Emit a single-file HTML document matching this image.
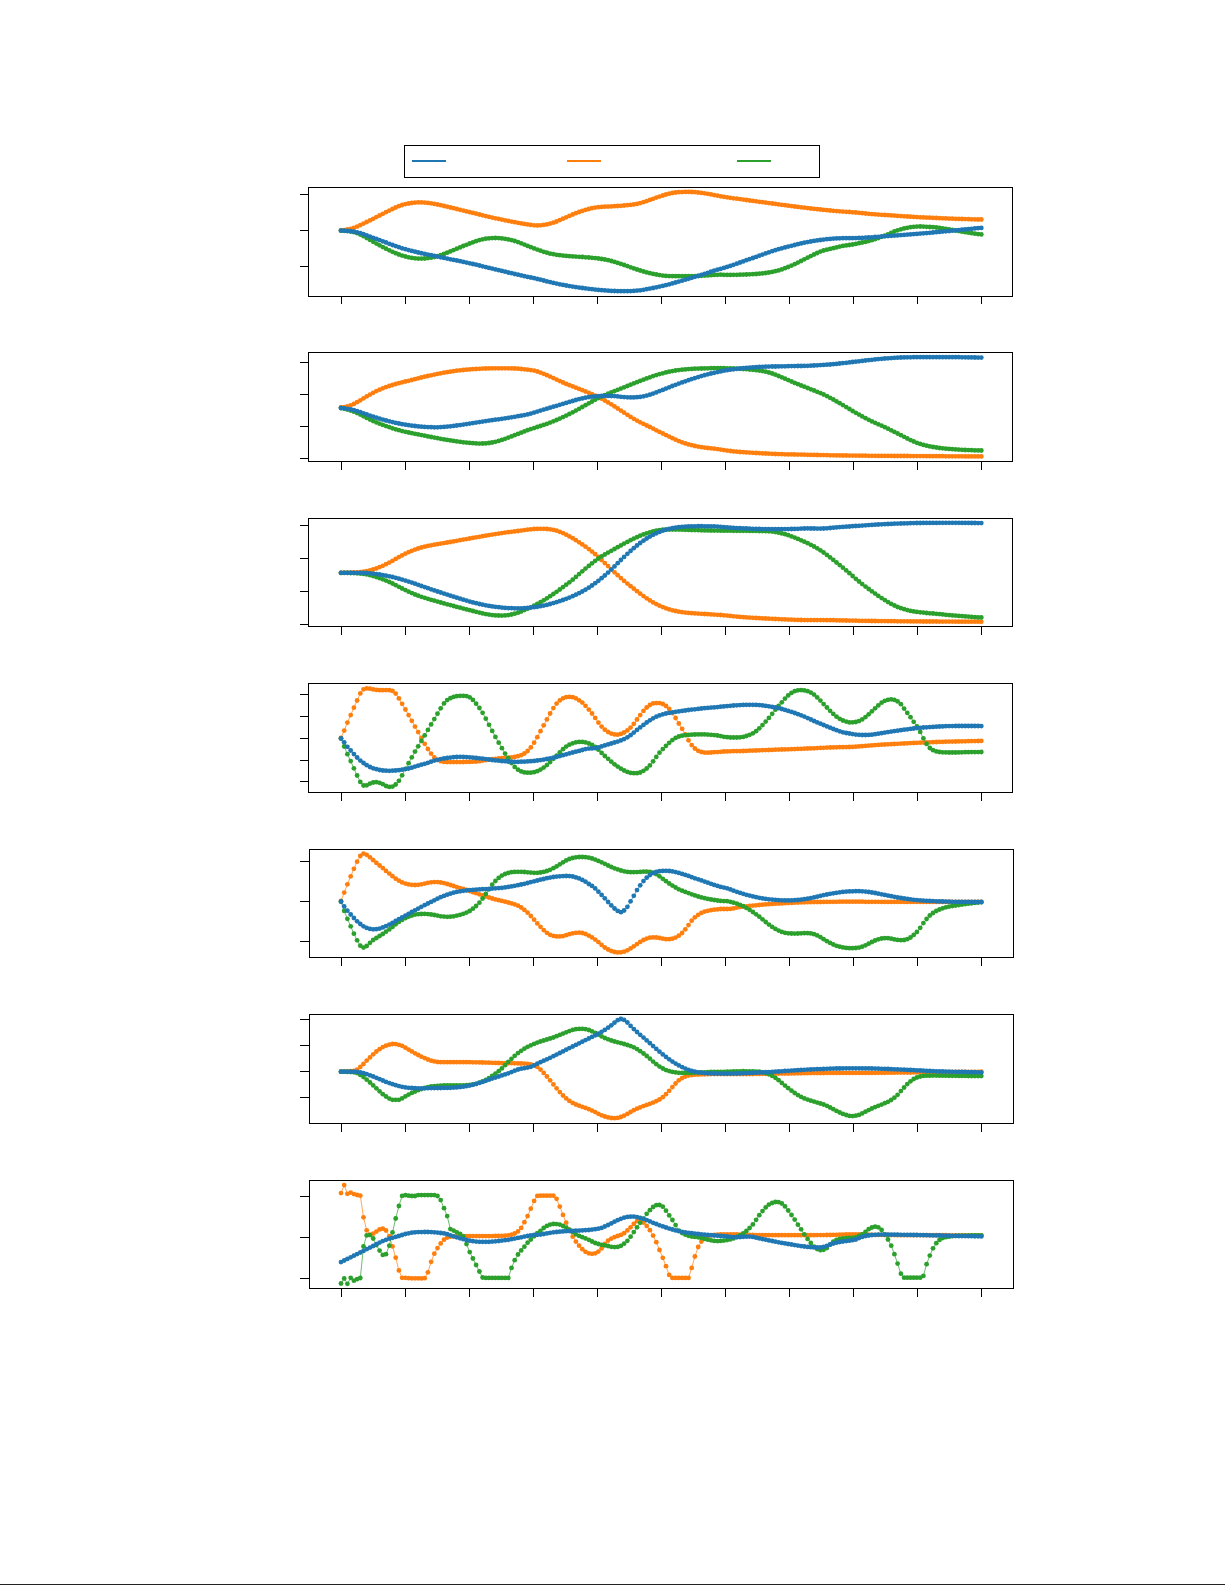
<!DOCTYPE html>
<html><head><meta charset="utf-8"><title>Figure</title>
<style>html,body{margin:0;padding:0;background:#fff;}body{width:1225px;height:1585px;position:relative;overflow:hidden;font-family:"Liberation Sans",sans-serif;}</style>
</head><body>
<svg width="1225" height="1585" viewBox="0 0 1225 1585" style="position:absolute;left:0;top:0">
<defs>
<marker id="mo" markerUnits="userSpaceOnUse" markerWidth="8" markerHeight="8" refX="4" refY="4" viewBox="0 0 8 8"><circle cx="4" cy="4" r="2.4" fill="#ff7f0e"/></marker>
<marker id="mg" markerUnits="userSpaceOnUse" markerWidth="8" markerHeight="8" refX="4" refY="4" viewBox="0 0 8 8"><circle cx="4" cy="4" r="2.4" fill="#2ca02c"/></marker>
<marker id="mb" markerUnits="userSpaceOnUse" markerWidth="8" markerHeight="8" refX="4" refY="4" viewBox="0 0 8 8"><circle cx="4" cy="4" r="2.4" fill="#1f77b4"/></marker>
</defs>
<rect x="0" y="0" width="1225" height="1585" fill="#fff"/>
<g shape-rendering="crispEdges" fill="none" stroke="#000" stroke-width="1">
<rect x="404.5" y="145.5" width="415" height="32"/>
</g>
<rect x="412" y="160" width="34" height="2" fill="#1f77b4"/>
<rect x="567" y="160" width="34" height="2" fill="#ff7f0e"/>
<rect x="737" y="160" width="34" height="2" fill="#2ca02c"/>
<polyline points="341.0,230.4 344.2,230.1 347.4,229.5 350.7,228.8 353.9,227.8 357.1,226.6 360.3,225.1 363.5,223.6 366.7,222.0 370.0,220.4 373.2,218.8 376.4,217.1 379.6,215.5 382.8,213.8 386.0,212.2 389.3,210.6 392.5,209.0 395.7,207.5 398.9,206.2 402.1,205.0 405.4,204.1 408.6,203.5 411.8,203.0 415.0,202.6 418.2,202.4 421.4,202.4 424.7,202.6 427.9,202.9 431.1,203.3 434.3,203.9 437.5,204.5 440.7,205.2 444.0,206.0 447.2,206.7 450.4,207.5 453.6,208.2 456.8,209.0 460.1,209.8 463.3,210.6 466.5,211.4 469.7,212.2 472.9,212.9 476.1,213.7 479.4,214.5 482.6,215.3 485.8,216.1 489.0,216.8 492.2,217.6 495.4,218.3 498.7,218.9 501.9,219.6 505.1,220.3 508.3,220.9 511.5,221.6 514.7,222.2 518.0,222.8 521.2,223.4 524.4,223.9 527.6,224.4 530.8,224.9 534.1,225.3 537.3,225.4 540.5,225.3 543.7,224.9 546.9,224.4 550.1,223.6 553.4,222.7 556.6,221.5 559.8,220.1 563.0,218.7 566.2,217.3 569.4,215.9 572.7,214.5 575.9,213.2 579.1,212.0 582.3,210.9 585.5,209.9 588.8,209.0 592.0,208.2 595.2,207.6 598.4,207.2 601.6,206.9 604.8,206.7 608.1,206.6 611.3,206.4 614.5,206.2 617.7,206.0 620.9,205.8 624.1,205.5 627.4,205.2 630.6,204.9 633.8,204.4 637.0,203.9 640.2,203.1 643.5,202.2 646.7,201.1 649.9,199.9 653.1,198.8 656.3,197.6 659.5,196.6 662.8,195.5 666.0,194.5 669.2,193.7 672.4,193.0 675.6,192.5 678.8,192.2 682.1,192.1 685.3,191.9 688.5,191.9 691.7,192.0 694.9,192.2 698.2,192.5 701.4,192.9 704.6,193.3 707.8,193.8 711.0,194.4 714.2,195.1 717.5,195.7 720.7,196.3 723.9,196.8 727.1,197.3 730.3,197.8 733.5,198.3 736.8,198.7 740.0,199.1 743.2,199.6 746.4,200.0 749.6,200.5 752.9,200.9 756.1,201.3 759.3,201.8 762.5,202.2 765.7,202.6 768.9,203.1 772.2,203.5 775.4,203.9 778.6,204.4 781.8,204.8 785.0,205.2 788.2,205.7 791.5,206.1 794.7,206.5 797.9,206.9 801.1,207.3 804.3,207.7 807.6,208.1 810.8,208.5 814.0,208.8 817.2,209.2 820.4,209.5 823.6,209.9 826.9,210.2 830.1,210.5 833.3,210.8 836.5,211.1 839.7,211.3 842.9,211.6 846.2,211.8 849.4,212.0 852.6,212.3 855.8,212.5 859.0,212.8 862.2,213.2 865.5,213.5 868.7,213.8 871.9,214.1 875.1,214.3 878.3,214.6 881.6,214.8 884.8,215.0 888.0,215.2 891.2,215.4 894.4,215.6 897.6,215.9 900.9,216.1 904.1,216.3 907.3,216.5 910.5,216.7 913.7,216.9 916.9,217.1 920.2,217.3 923.4,217.4 926.6,217.6 929.8,217.7 933.0,217.9 936.3,218.0 939.5,218.2 942.7,218.3 945.9,218.4 949.1,218.6 952.3,218.7 955.6,218.8 958.8,218.9 962.0,219.0 965.2,219.1 968.4,219.2 971.6,219.3 974.9,219.4 978.1,219.5 981.3,219.5" fill="none" stroke="#ff7f0e" stroke-width="0.7" stroke-linejoin="round" marker-start="url(#mo)" marker-mid="url(#mo)" marker-end="url(#mo)"/>
<polyline points="341.0,230.6 344.2,230.8 347.4,231.1 350.7,231.5 353.9,232.2 357.1,233.2 360.3,234.5 363.5,236.2 366.7,238.0 370.0,239.9 373.2,241.8 376.4,243.6 379.6,245.3 382.8,247.1 386.0,248.7 389.3,250.3 392.5,251.8 395.7,253.2 398.9,254.5 402.1,255.6 405.4,256.5 408.6,257.3 411.8,257.9 415.0,258.3 418.2,258.6 421.4,258.6 424.7,258.5 427.9,258.1 431.1,257.7 434.3,257.0 437.5,256.1 440.7,255.1 444.0,254.0 447.2,252.7 450.4,251.4 453.6,250.1 456.8,248.7 460.1,247.4 463.3,246.0 466.5,244.8 469.7,243.5 472.9,242.3 476.1,241.2 479.4,240.1 482.6,239.3 485.8,238.7 489.0,238.3 492.2,238.1 495.4,238.0 498.7,238.1 501.9,238.4 505.1,238.8 508.3,239.4 511.5,240.1 514.7,241.0 518.0,242.1 521.2,243.3 524.4,244.6 527.6,245.9 530.8,247.2 534.1,248.4 537.3,249.6 540.5,250.7 543.7,251.8 546.9,252.7 550.1,253.6 553.4,254.2 556.6,254.8 559.8,255.2 563.0,255.6 566.2,255.9 569.4,256.2 572.7,256.4 575.9,256.6 579.1,256.8 582.3,257.0 585.5,257.3 588.8,257.5 592.0,257.8 595.2,258.1 598.4,258.5 601.6,259.0 604.8,259.5 608.1,260.2 611.3,261.0 614.5,261.9 617.7,262.9 620.9,263.9 624.1,265.0 627.4,266.1 630.6,267.3 633.8,268.4 637.0,269.5 640.2,270.5 643.5,271.5 646.7,272.4 649.9,273.2 653.1,273.9 656.3,274.5 659.5,275.1 662.8,275.6 666.0,275.9 669.2,276.1 672.4,276.2 675.6,276.2 678.8,276.2 682.1,276.2 685.3,276.2 688.5,276.2 691.7,276.2 694.9,276.1 698.2,276.0 701.4,275.8 704.6,275.6 707.8,275.4 711.0,275.2 714.2,274.9 717.5,274.8 720.7,274.7 723.9,274.8 727.1,274.9 730.3,274.9 733.5,274.8 736.8,274.8 740.0,274.7 743.2,274.6 746.4,274.5 749.6,274.3 752.9,274.2 756.1,274.0 759.3,273.7 762.5,273.4 765.7,273.0 768.9,272.5 772.2,271.9 775.4,271.2 778.6,270.4 781.8,269.4 785.0,268.2 788.2,267.0 791.5,265.6 794.7,264.2 797.9,262.6 801.1,261.0 804.3,259.3 807.6,257.7 810.8,256.1 814.0,254.5 817.2,253.0 820.4,251.6 823.6,250.5 826.9,249.7 830.1,248.9 833.3,248.2 836.5,247.4 839.7,246.6 842.9,245.9 846.2,245.4 849.4,245.0 852.6,244.5 855.8,243.9 859.0,243.2 862.2,242.5 865.5,241.9 868.7,241.1 871.9,240.2 875.1,239.2 878.3,238.0 881.6,236.8 884.8,235.6 888.0,234.3 891.2,232.9 894.4,231.5 897.6,230.3 900.9,229.3 904.1,228.4 907.3,227.8 910.5,227.2 913.7,226.8 916.9,226.6 920.2,226.5 923.4,226.6 926.6,226.8 929.8,227.0 933.0,227.2 936.3,227.5 939.5,227.9 942.7,228.4 945.9,228.9 949.1,229.5 952.3,230.0 955.6,230.6 958.8,231.1 962.0,231.7 965.2,232.2 968.4,232.7 971.6,233.2 974.9,233.7 978.1,234.1 981.3,234.4" fill="none" stroke="#2ca02c" stroke-width="0.7" stroke-linejoin="round" marker-start="url(#mg)" marker-mid="url(#mg)" marker-end="url(#mg)"/>
<polyline points="341.0,230.6 344.2,230.7 347.4,230.9 350.7,231.2 353.9,231.7 357.1,232.3 360.3,233.2 363.5,234.2 366.7,235.4 370.0,236.6 373.2,237.8 376.4,238.9 379.6,240.1 382.8,241.3 386.0,242.5 389.3,243.8 392.5,245.0 395.7,246.1 398.9,247.2 402.1,248.3 405.4,249.2 408.6,250.1 411.8,250.9 415.0,251.7 418.2,252.5 421.4,253.2 424.7,253.9 427.9,254.6 431.1,255.2 434.3,255.9 437.5,256.6 440.7,257.3 444.0,257.9 447.2,258.6 450.4,259.3 453.6,259.9 456.8,260.5 460.1,261.2 463.3,261.9 466.5,262.6 469.7,263.3 472.9,264.0 476.1,264.7 479.4,265.5 482.6,266.3 485.8,267.1 489.0,267.9 492.2,268.6 495.4,269.4 498.7,270.2 501.9,270.9 505.1,271.7 508.3,272.5 511.5,273.2 514.7,274.0 518.0,274.7 521.2,275.4 524.4,276.2 527.6,276.9 530.8,277.5 534.1,278.2 537.3,279.0 540.5,279.7 543.7,280.5 546.9,281.4 550.1,282.1 553.4,282.9 556.6,283.6 559.8,284.3 563.0,284.9 566.2,285.5 569.4,286.1 572.7,286.6 575.9,287.1 579.1,287.6 582.3,288.0 585.5,288.4 588.8,288.8 592.0,289.2 595.2,289.6 598.4,289.9 601.6,290.2 604.8,290.4 608.1,290.7 611.3,290.9 614.5,291.0 617.7,291.2 620.9,291.2 624.1,291.2 627.4,291.2 630.6,291.1 633.8,290.9 637.0,290.6 640.2,290.3 643.5,289.8 646.7,289.2 649.9,288.6 653.1,288.0 656.3,287.3 659.5,286.6 662.8,285.9 666.0,285.1 669.2,284.3 672.4,283.4 675.6,282.5 678.8,281.6 682.1,280.7 685.3,279.7 688.5,278.8 691.7,277.8 694.9,276.8 698.2,275.9 701.4,274.8 704.6,273.8 707.8,272.8 711.0,271.7 714.2,270.7 717.5,269.7 720.7,268.8 723.9,267.9 727.1,266.9 730.3,265.9 733.5,264.8 736.8,263.7 740.0,262.5 743.2,261.4 746.4,260.2 749.6,259.1 752.9,258.0 756.1,256.9 759.3,255.7 762.5,254.6 765.7,253.4 768.9,252.3 772.2,251.2 775.4,250.2 778.6,249.2 781.8,248.3 785.0,247.4 788.2,246.6 791.5,245.8 794.7,245.0 797.9,244.2 801.1,243.4 804.3,242.7 807.6,242.1 810.8,241.5 814.0,240.9 817.2,240.4 820.4,240.0 823.6,239.6 826.9,239.2 830.1,238.9 833.3,238.6 836.5,238.4 839.7,238.3 842.9,238.2 846.2,238.2 849.4,238.2 852.6,238.2 855.8,238.1 859.0,238.0 862.2,237.9 865.5,237.7 868.7,237.5 871.9,237.3 875.1,237.0 878.3,236.8 881.6,236.5 884.8,236.3 888.0,236.1 891.2,235.8 894.4,235.6 897.6,235.4 900.9,235.1 904.1,234.9 907.3,234.6 910.5,234.4 913.7,234.1 916.9,233.9 920.2,233.6 923.4,233.3 926.6,233.1 929.8,232.8 933.0,232.5 936.3,232.2 939.5,231.9 942.7,231.6 945.9,231.3 949.1,231.0 952.3,230.7 955.6,230.4 958.8,230.1 962.0,229.7 965.2,229.4 968.4,229.1 971.6,228.8 974.9,228.4 978.1,228.1 981.3,227.9" fill="none" stroke="#1f77b4" stroke-width="0.7" stroke-linejoin="round" marker-start="url(#mb)" marker-mid="url(#mb)" marker-end="url(#mb)"/>
<g shape-rendering="crispEdges" fill="#000"><rect x="308" y="187" width="705" height="1"/><rect x="308" y="296" width="705" height="1"/><rect x="308" y="187" width="1" height="110"/><rect x="1012" y="187" width="1" height="110"/><rect x="341" y="297" width="1" height="7"/><rect x="405" y="297" width="1" height="7"/><rect x="469" y="297" width="1" height="7"/><rect x="533" y="297" width="1" height="7"/><rect x="597" y="297" width="1" height="7"/><rect x="661" y="297" width="1" height="7"/><rect x="725" y="297" width="1" height="7"/><rect x="789" y="297" width="1" height="7"/><rect x="853" y="297" width="1" height="7"/><rect x="917" y="297" width="1" height="7"/><rect x="981" y="297" width="1" height="7"/><rect x="300" y="194" width="8" height="1"/><rect x="300" y="230" width="8" height="1"/><rect x="300" y="266" width="8" height="1"/></g>
<polyline points="341.0,407.5 344.2,407.1 347.4,406.4 350.7,405.3 353.9,403.9 357.1,402.2 360.3,400.3 363.5,398.3 366.7,396.4 370.0,394.6 373.2,392.8 376.4,391.1 379.6,389.7 382.8,388.3 386.0,387.1 389.3,386.0 392.5,385.0 395.7,384.0 398.9,383.2 402.1,382.3 405.4,381.5 408.6,380.8 411.8,380.0 415.0,379.2 418.2,378.3 421.4,377.5 424.7,376.7 427.9,376.0 431.1,375.3 434.3,374.6 437.5,373.9 440.7,373.3 444.0,372.7 447.2,372.2 450.4,371.7 453.6,371.2 456.8,370.7 460.1,370.3 463.3,370.0 466.5,369.7 469.7,369.4 472.9,369.2 476.1,369.0 479.4,368.8 482.6,368.6 485.8,368.5 489.0,368.4 492.2,368.3 495.4,368.3 498.7,368.3 501.9,368.3 505.1,368.3 508.3,368.3 511.5,368.4 514.7,368.5 518.0,368.7 521.2,369.0 524.4,369.3 527.6,369.7 530.8,370.1 534.1,370.6 537.3,371.5 540.5,372.6 543.7,373.8 546.9,375.2 550.1,376.6 553.4,378.1 556.6,379.6 559.8,381.1 563.0,382.5 566.2,383.9 569.4,385.2 572.7,386.4 575.9,387.7 579.1,388.9 582.3,390.2 585.5,391.5 588.8,392.8 592.0,394.1 595.2,395.6 598.4,397.1 601.6,398.7 604.8,400.5 608.1,402.4 611.3,404.3 614.5,406.4 617.7,408.5 620.9,410.6 624.1,412.7 627.4,414.8 630.6,416.9 633.8,418.8 637.0,420.6 640.2,422.3 643.5,423.9 646.7,425.5 649.9,427.0 653.1,428.6 656.3,430.3 659.5,431.9 662.8,433.5 666.0,435.1 669.2,436.6 672.4,438.2 675.6,439.7 678.8,441.1 682.1,442.3 685.3,443.4 688.5,444.4 691.7,445.2 694.9,446.0 698.2,446.6 701.4,447.2 704.6,447.6 707.8,448.0 711.0,448.3 714.2,448.7 717.5,449.1 720.7,449.6 723.9,450.1 727.1,450.6 730.3,451.0 733.5,451.4 736.8,451.7 740.0,452.0 743.2,452.2 746.4,452.4 749.6,452.6 752.9,452.8 756.1,453.0 759.3,453.2 762.5,453.4 765.7,453.5 768.9,453.7 772.2,453.8 775.4,454.0 778.6,454.1 781.8,454.2 785.0,454.3 788.2,454.4 791.5,454.4 794.7,454.5 797.9,454.6 801.1,454.6 804.3,454.7 807.6,454.8 810.8,454.9 814.0,454.9 817.2,455.0 820.4,455.1 823.6,455.1 826.9,455.2 830.1,455.3 833.3,455.3 836.5,455.4 839.7,455.4 842.9,455.5 846.2,455.5 849.4,455.6 852.6,455.6 855.8,455.6 859.0,455.7 862.2,455.7 865.5,455.7 868.7,455.8 871.9,455.8 875.1,455.8 878.3,455.9 881.6,455.9 884.8,455.9 888.0,455.9 891.2,455.9 894.4,456.0 897.6,456.0 900.9,456.0 904.1,456.0 907.3,456.0 910.5,456.1 913.7,456.1 916.9,456.1 920.2,456.1 923.4,456.1 926.6,456.2 929.8,456.2 933.0,456.2 936.3,456.2 939.5,456.2 942.7,456.2 945.9,456.3 949.1,456.3 952.3,456.3 955.6,456.3 958.8,456.3 962.0,456.3 965.2,456.4 968.4,456.4 971.6,456.4 974.9,456.4 978.1,456.4 981.3,456.4" fill="none" stroke="#ff7f0e" stroke-width="0.7" stroke-linejoin="round" marker-start="url(#mo)" marker-mid="url(#mo)" marker-end="url(#mo)"/>
<polyline points="341.0,408.1 344.2,408.7 347.4,409.5 350.7,410.5 353.9,411.7 357.1,413.1 360.3,414.6 363.5,416.3 366.7,417.9 370.0,419.5 373.2,421.0 376.4,422.4 379.6,423.7 382.8,424.9 386.0,426.1 389.3,427.2 392.5,428.3 395.7,429.3 398.9,430.2 402.1,431.1 405.4,431.8 408.6,432.5 411.8,433.2 415.0,433.8 418.2,434.4 421.4,435.1 424.7,435.7 427.9,436.4 431.1,437.0 434.3,437.6 437.5,438.2 440.7,438.8 444.0,439.4 447.2,439.9 450.4,440.4 453.6,440.9 456.8,441.4 460.1,441.8 463.3,442.3 466.5,442.6 469.7,442.9 472.9,443.2 476.1,443.4 479.4,443.6 482.6,443.5 485.8,443.4 489.0,443.0 492.2,442.5 495.4,441.8 498.7,440.9 501.9,439.9 505.1,438.8 508.3,437.6 511.5,436.4 514.7,435.2 518.0,433.9 521.2,432.7 524.4,431.4 527.6,430.2 530.8,429.1 534.1,428.1 537.3,427.0 540.5,426.0 543.7,424.9 546.9,423.8 550.1,422.6 553.4,421.3 556.6,420.0 559.8,418.6 563.0,417.1 566.2,415.6 569.4,414.0 572.7,412.3 575.9,410.6 579.1,408.8 582.3,407.0 585.5,405.2 588.8,403.3 592.0,401.5 595.2,399.7 598.4,398.1 601.6,396.5 604.8,395.1 608.1,393.7 611.3,392.4 614.5,391.1 617.7,389.8 620.9,388.6 624.1,387.3 627.4,386.0 630.6,384.7 633.8,383.4 637.0,382.2 640.2,380.9 643.5,379.7 646.7,378.4 649.9,377.3 653.1,376.1 656.3,375.1 659.5,374.1 662.8,373.3 666.0,372.4 669.2,371.7 672.4,371.1 675.6,370.5 678.8,370.1 682.1,369.7 685.3,369.4 688.5,369.1 691.7,368.9 694.9,368.7 698.2,368.6 701.4,368.5 704.6,368.4 707.8,368.3 711.0,368.2 714.2,368.2 717.5,368.1 720.7,368.1 723.9,368.2 727.1,368.3 730.3,368.4 733.5,368.5 736.8,368.6 740.0,368.8 743.2,369.0 746.4,369.2 749.6,369.5 752.9,369.8 756.1,370.2 759.3,370.6 762.5,371.1 765.7,371.7 768.9,372.5 772.2,373.5 775.4,374.7 778.6,376.0 781.8,377.3 785.0,378.7 788.2,380.1 791.5,381.5 794.7,382.9 797.9,384.2 801.1,385.5 804.3,386.7 807.6,388.0 810.8,389.3 814.0,390.5 817.2,391.8 820.4,393.1 823.6,394.5 826.9,396.1 830.1,397.8 833.3,399.5 836.5,401.4 839.7,403.2 842.9,405.1 846.2,407.1 849.4,409.0 852.6,411.0 855.8,412.8 859.0,414.6 862.2,416.4 865.5,418.2 868.7,419.8 871.9,421.4 875.1,422.8 878.3,424.3 881.6,425.7 884.8,427.2 888.0,428.7 891.2,430.3 894.4,431.9 897.6,433.5 900.9,435.2 904.1,436.8 907.3,438.5 910.5,440.1 913.7,441.5 916.9,442.8 920.2,443.9 923.4,444.9 926.6,445.7 929.8,446.4 933.0,447.0 936.3,447.5 939.5,448.0 942.7,448.3 945.9,448.7 949.1,448.9 952.3,449.2 955.6,449.4 958.8,449.6 962.0,449.8 965.2,450.0 968.4,450.1 971.6,450.2 974.9,450.4 978.1,450.4 981.3,450.5" fill="none" stroke="#2ca02c" stroke-width="0.7" stroke-linejoin="round" marker-start="url(#mg)" marker-mid="url(#mg)" marker-end="url(#mg)"/>
<polyline points="341.0,408.0 344.2,408.3 347.4,408.8 350.7,409.4 353.9,410.2 357.1,411.1 360.3,412.1 363.5,413.3 366.7,414.4 370.0,415.6 373.2,416.7 376.4,417.7 379.6,418.7 382.8,419.6 386.0,420.5 389.3,421.3 392.5,422.1 395.7,422.9 398.9,423.5 402.1,424.2 405.4,424.7 408.6,425.2 411.8,425.7 415.0,426.0 418.2,426.4 421.4,426.7 424.7,426.9 427.9,427.1 431.1,427.2 434.3,427.3 437.5,427.3 440.7,427.1 444.0,426.9 447.2,426.6 450.4,426.3 453.6,425.9 456.8,425.5 460.1,425.1 463.3,424.6 466.5,424.1 469.7,423.6 472.9,423.1 476.1,422.6 479.4,422.1 482.6,421.6 485.8,421.1 489.0,420.6 492.2,420.2 495.4,419.7 498.7,419.3 501.9,418.8 505.1,418.3 508.3,417.8 511.5,417.3 514.7,416.8 518.0,416.2 521.2,415.7 524.4,415.1 527.6,414.4 530.8,413.6 534.1,412.6 537.3,411.6 540.5,410.6 543.7,409.6 546.9,408.7 550.1,407.7 553.4,406.7 556.6,405.8 559.8,404.8 563.0,403.8 566.2,402.9 569.4,401.9 572.7,401.0 575.9,400.0 579.1,399.1 582.3,398.4 585.5,397.7 588.8,397.1 592.0,396.7 595.2,396.3 598.4,396.1 601.6,396.0 604.8,395.9 608.1,395.9 611.3,396.0 614.5,396.1 617.7,396.4 620.9,396.8 624.1,397.1 627.4,397.3 630.6,397.4 633.8,397.4 637.0,397.2 640.2,396.9 643.5,396.3 646.7,395.6 649.9,394.7 653.1,393.6 656.3,392.4 659.5,391.1 662.8,389.9 666.0,388.6 669.2,387.3 672.4,386.0 675.6,384.8 678.8,383.6 682.1,382.4 685.3,381.3 688.5,380.2 691.7,379.1 694.9,378.1 698.2,377.1 701.4,376.1 704.6,375.2 707.8,374.3 711.0,373.5 714.2,372.8 717.5,372.1 720.7,371.4 723.9,370.7 727.1,370.2 730.3,369.7 733.5,369.3 736.8,368.9 740.0,368.5 743.2,368.2 746.4,367.9 749.6,367.6 752.9,367.4 756.1,367.1 759.3,367.0 762.5,366.8 765.7,366.7 768.9,366.6 772.2,366.5 775.4,366.5 778.6,366.4 781.8,366.3 785.0,366.3 788.2,366.2 791.5,366.1 794.7,366.1 797.9,366.0 801.1,366.0 804.3,365.9 807.6,365.8 810.8,365.7 814.0,365.5 817.2,365.3 820.4,365.1 823.6,364.9 826.9,364.7 830.1,364.5 833.3,364.2 836.5,363.9 839.7,363.5 842.9,363.1 846.2,362.8 849.4,362.4 852.6,362.0 855.8,361.7 859.0,361.3 862.2,360.9 865.5,360.5 868.7,360.1 871.9,359.8 875.1,359.4 878.3,359.1 881.6,358.8 884.8,358.5 888.0,358.3 891.2,358.1 894.4,357.8 897.6,357.7 900.9,357.5 904.1,357.4 907.3,357.3 910.5,357.3 913.7,357.2 916.9,357.2 920.2,357.2 923.4,357.2 926.6,357.2 929.8,357.2 933.0,357.2 936.3,357.2 939.5,357.2 942.7,357.2 945.9,357.2 949.1,357.2 952.3,357.2 955.6,357.2 958.8,357.2 962.0,357.3 965.2,357.3 968.4,357.4 971.6,357.4 974.9,357.5 978.1,357.6 981.3,357.6" fill="none" stroke="#1f77b4" stroke-width="0.7" stroke-linejoin="round" marker-start="url(#mb)" marker-mid="url(#mb)" marker-end="url(#mb)"/>
<g shape-rendering="crispEdges" fill="#000"><rect x="308" y="352" width="705" height="1"/><rect x="308" y="461" width="705" height="1"/><rect x="308" y="352" width="1" height="110"/><rect x="1012" y="352" width="1" height="110"/><rect x="341" y="462" width="1" height="8"/><rect x="405" y="462" width="1" height="8"/><rect x="469" y="462" width="1" height="8"/><rect x="533" y="462" width="1" height="8"/><rect x="597" y="462" width="1" height="8"/><rect x="661" y="462" width="1" height="8"/><rect x="725" y="462" width="1" height="8"/><rect x="789" y="462" width="1" height="8"/><rect x="853" y="462" width="1" height="8"/><rect x="917" y="462" width="1" height="8"/><rect x="981" y="462" width="1" height="8"/><rect x="300" y="362" width="8" height="1"/><rect x="300" y="394" width="8" height="1"/><rect x="300" y="426" width="8" height="1"/><rect x="300" y="458" width="8" height="1"/></g>
<polyline points="341.0,572.8 344.2,572.7 347.4,572.7 350.7,572.6 353.9,572.5 357.1,572.3 360.3,572.1 363.5,571.7 366.7,571.2 370.0,570.4 373.2,569.5 376.4,568.4 379.6,567.1 382.8,565.8 386.0,564.2 389.3,562.6 392.5,560.8 395.7,558.9 398.9,557.1 402.1,555.4 405.4,553.7 408.6,552.2 411.8,550.8 415.0,549.6 418.2,548.5 421.4,547.5 424.7,546.7 427.9,545.9 431.1,545.3 434.3,544.7 437.5,544.2 440.7,543.6 444.0,543.1 447.2,542.5 450.4,542.0 453.6,541.4 456.8,540.8 460.1,540.2 463.3,539.6 466.5,539.1 469.7,538.5 472.9,537.9 476.1,537.3 479.4,536.8 482.6,536.2 485.8,535.7 489.0,535.1 492.2,534.6 495.4,534.1 498.7,533.6 501.9,533.1 505.1,532.6 508.3,532.2 511.5,531.8 514.7,531.4 518.0,531.0 521.2,530.6 524.4,530.1 527.6,529.7 530.8,529.3 534.1,529.0 537.3,528.9 540.5,528.8 543.7,528.8 546.9,529.0 550.1,529.3 553.4,529.9 556.6,530.7 559.8,531.8 563.0,533.1 566.2,534.7 569.4,536.4 572.7,538.2 575.9,540.2 579.1,542.3 582.3,544.4 585.5,546.7 588.8,549.1 592.0,551.6 595.2,554.2 598.4,557.0 601.6,560.0 604.8,563.1 608.1,566.1 611.3,569.2 614.5,572.3 617.7,575.2 620.9,578.1 624.1,580.9 627.4,583.6 630.6,586.2 633.8,588.7 637.0,591.2 640.2,593.7 643.5,596.1 646.7,598.3 649.9,600.4 653.1,602.4 656.3,604.1 659.5,605.7 662.8,607.1 666.0,608.3 669.2,609.4 672.4,610.3 675.6,611.0 678.8,611.7 682.1,612.2 685.3,612.6 688.5,612.9 691.7,613.2 694.9,613.4 698.2,613.6 701.4,613.8 704.6,614.0 707.8,614.2 711.0,614.4 714.2,614.6 717.5,614.8 720.7,615.0 723.9,615.3 727.1,615.6 730.3,615.9 733.5,616.3 736.8,616.6 740.0,616.9 743.2,617.2 746.4,617.4 749.6,617.6 752.9,617.8 756.1,618.0 759.3,618.2 762.5,618.4 765.7,618.5 768.9,618.7 772.2,618.8 775.4,619.0 778.6,619.1 781.8,619.3 785.0,619.4 788.2,619.6 791.5,619.7 794.7,619.8 797.9,619.9 801.1,620.0 804.3,620.1 807.6,620.1 810.8,620.1 814.0,620.1 817.2,620.1 820.4,620.1 823.6,620.1 826.9,620.2 830.1,620.2 833.3,620.2 836.5,620.3 839.7,620.4 842.9,620.4 846.2,620.5 849.4,620.6 852.6,620.6 855.8,620.7 859.0,620.8 862.2,620.8 865.5,620.9 868.7,620.9 871.9,621.0 875.1,621.0 878.3,621.1 881.6,621.1 884.8,621.1 888.0,621.2 891.2,621.2 894.4,621.2 897.6,621.3 900.9,621.3 904.1,621.3 907.3,621.3 910.5,621.4 913.7,621.4 916.9,621.4 920.2,621.4 923.4,621.5 926.6,621.5 929.8,621.5 933.0,621.5 936.3,621.5 939.5,621.6 942.7,621.6 945.9,621.6 949.1,621.6 952.3,621.6 955.6,621.7 958.8,621.7 962.0,621.7 965.2,621.7 968.4,621.7 971.6,621.7 974.9,621.7 978.1,621.7 981.3,621.8" fill="none" stroke="#ff7f0e" stroke-width="0.7" stroke-linejoin="round" marker-start="url(#mo)" marker-mid="url(#mo)" marker-end="url(#mo)"/>
<polyline points="341.0,572.8 344.2,572.8 347.4,572.9 350.7,573.0 353.9,573.1 357.1,573.3 360.3,573.5 363.5,573.9 366.7,574.4 370.0,575.2 373.2,576.1 376.4,577.1 379.6,578.2 382.8,579.3 386.0,580.6 389.3,582.0 392.5,583.5 395.7,585.2 398.9,586.8 402.1,588.5 405.4,590.1 408.6,591.7 411.8,593.1 415.0,594.5 418.2,595.7 421.4,596.8 424.7,597.8 427.9,598.8 431.1,599.8 434.3,600.7 437.5,601.6 440.7,602.5 444.0,603.4 447.2,604.3 450.4,605.1 453.6,606.0 456.8,606.9 460.1,607.7 463.3,608.6 466.5,609.4 469.7,610.2 472.9,611.0 476.1,611.8 479.4,612.6 482.6,613.4 485.8,614.1 489.0,614.6 492.2,615.1 495.4,615.4 498.7,615.5 501.9,615.6 505.1,615.4 508.3,615.1 511.5,614.5 514.7,613.7 518.0,612.7 521.2,611.5 524.4,610.1 527.6,608.7 530.8,607.3 534.1,605.7 537.3,604.0 540.5,602.2 543.7,600.3 546.9,598.3 550.1,596.2 553.4,594.0 556.6,591.8 559.8,589.5 563.0,587.1 566.2,584.7 569.4,582.3 572.7,579.7 575.9,576.9 579.1,574.1 582.3,571.3 585.5,568.6 588.8,565.9 592.0,563.3 595.2,560.8 598.4,558.5 601.6,556.4 604.8,554.5 608.1,552.6 611.3,550.8 614.5,549.0 617.7,547.2 620.9,545.4 624.1,543.6 627.4,541.9 630.6,540.2 633.8,538.6 637.0,537.2 640.2,535.7 643.5,534.4 646.7,533.3 649.9,532.3 653.1,531.4 656.3,530.6 659.5,530.1 662.8,529.7 666.0,529.6 669.2,529.5 672.4,529.5 675.6,529.5 678.8,529.6 682.1,529.7 685.3,529.8 688.5,529.9 691.7,530.0 694.9,530.1 698.2,530.2 701.4,530.3 704.6,530.4 707.8,530.4 711.0,530.5 714.2,530.6 717.5,530.6 720.7,530.7 723.9,530.7 727.1,530.7 730.3,530.7 733.5,530.8 736.8,530.8 740.0,530.8 743.2,530.8 746.4,530.8 749.6,530.9 752.9,530.9 756.1,530.9 759.3,531.0 762.5,531.1 765.7,531.2 768.9,531.3 772.2,531.6 775.4,532.1 778.6,532.7 781.8,533.4 785.0,534.2 788.2,535.2 791.5,536.4 794.7,537.6 797.9,538.9 801.1,540.3 804.3,541.7 807.6,543.2 810.8,544.8 814.0,546.5 817.2,548.3 820.4,550.3 823.6,552.5 826.9,554.9 830.1,557.4 833.3,559.9 836.5,562.5 839.7,565.1 842.9,567.7 846.2,570.4 849.4,573.2 852.6,576.0 855.8,578.8 859.0,581.5 862.2,584.1 865.5,586.6 868.7,589.0 871.9,591.3 875.1,593.6 878.3,595.9 881.6,598.1 884.8,600.1 888.0,602.1 891.2,603.9 894.4,605.5 897.6,607.0 900.9,608.2 904.1,609.2 907.3,610.1 910.5,610.9 913.7,611.4 916.9,611.9 920.2,612.3 923.4,612.6 926.6,613.0 929.8,613.3 933.0,613.5 936.3,613.8 939.5,614.1 942.7,614.4 945.9,614.8 949.1,615.1 952.3,615.4 955.6,615.6 958.8,615.9 962.0,616.1 965.2,616.4 968.4,616.6 971.6,616.9 974.9,617.2 978.1,617.4 981.3,617.5" fill="none" stroke="#2ca02c" stroke-width="0.7" stroke-linejoin="round" marker-start="url(#mg)" marker-mid="url(#mg)" marker-end="url(#mg)"/>
<polyline points="341.0,572.8 344.2,572.8 347.4,572.8 350.7,572.8 353.9,572.8 357.1,572.8 360.3,572.8 363.5,572.9 366.7,573.0 370.0,573.3 373.2,573.6 376.4,574.1 379.6,574.5 382.8,575.1 386.0,575.7 389.3,576.3 392.5,577.0 395.7,577.8 398.9,578.7 402.1,579.6 405.4,580.6 408.6,581.6 411.8,582.6 415.0,583.7 418.2,584.8 421.4,586.0 424.7,587.1 427.9,588.2 431.1,589.3 434.3,590.4 437.5,591.5 440.7,592.5 444.0,593.6 447.2,594.6 450.4,595.7 453.6,596.7 456.8,597.7 460.1,598.7 463.3,599.7 466.5,600.6 469.7,601.6 472.9,602.4 476.1,603.2 479.4,604.0 482.6,604.7 485.8,605.3 489.0,605.9 492.2,606.4 495.4,606.8 498.7,607.2 501.9,607.6 505.1,607.9 508.3,608.1 511.5,608.2 514.7,608.3 518.0,608.3 521.2,608.3 524.4,608.1 527.6,607.9 530.8,607.6 534.1,607.2 537.3,606.8 540.5,606.2 543.7,605.6 546.9,604.9 550.1,604.0 553.4,603.1 556.6,602.2 559.8,601.1 563.0,600.0 566.2,598.8 569.4,597.6 572.7,596.2 575.9,594.7 579.1,593.2 582.3,591.5 585.5,589.7 588.8,587.7 592.0,585.5 595.2,583.2 598.4,580.8 601.6,578.2 604.8,575.5 608.1,572.6 611.3,569.6 614.5,566.4 617.7,563.2 620.9,560.0 624.1,556.9 627.4,553.8 630.6,550.9 633.8,548.2 637.0,545.5 640.2,543.0 643.5,540.7 646.7,538.5 649.9,536.6 653.1,534.8 656.3,533.3 659.5,531.9 662.8,530.7 666.0,529.7 669.2,528.9 672.4,528.2 675.6,527.6 678.8,527.2 682.1,526.8 685.3,526.6 688.5,526.4 691.7,526.3 694.9,526.3 698.2,526.2 701.4,526.2 704.6,526.3 707.8,526.3 711.0,526.3 714.2,526.4 717.5,526.6 720.7,526.8 723.9,527.1 727.1,527.4 730.3,527.7 733.5,527.9 736.8,528.1 740.0,528.2 743.2,528.4 746.4,528.5 749.6,528.7 752.9,528.8 756.1,528.9 759.3,529.0 762.5,529.1 765.7,529.1 768.9,529.1 772.2,529.2 775.4,529.2 778.6,529.2 781.8,529.1 785.0,529.1 788.2,529.1 791.5,529.0 794.7,528.9 797.9,528.8 801.1,528.6 804.3,528.5 807.6,528.4 810.8,528.5 814.0,528.5 817.2,528.6 820.4,528.6 823.6,528.5 826.9,528.3 830.1,528.0 833.3,527.7 836.5,527.4 839.7,527.1 842.9,526.9 846.2,526.7 849.4,526.5 852.6,526.2 855.8,526.0 859.0,525.8 862.2,525.6 865.5,525.3 868.7,525.1 871.9,524.9 875.1,524.7 878.3,524.5 881.6,524.3 884.8,524.2 888.0,524.0 891.2,523.9 894.4,523.7 897.6,523.6 900.9,523.5 904.1,523.4 907.3,523.3 910.5,523.2 913.7,523.1 916.9,523.0 920.2,523.0 923.4,522.9 926.6,522.9 929.8,522.9 933.0,522.9 936.3,522.9 939.5,522.8 942.7,522.8 945.9,522.8 949.1,522.8 952.3,522.8 955.6,522.8 958.8,522.8 962.0,522.9 965.2,522.9 968.4,522.9 971.6,523.0 974.9,523.0 978.1,523.1 981.3,523.1" fill="none" stroke="#1f77b4" stroke-width="0.7" stroke-linejoin="round" marker-start="url(#mb)" marker-mid="url(#mb)" marker-end="url(#mb)"/>
<g shape-rendering="crispEdges" fill="#000"><rect x="308" y="518" width="705" height="1"/><rect x="308" y="626" width="705" height="1"/><rect x="308" y="518" width="1" height="109"/><rect x="1012" y="518" width="1" height="109"/><rect x="341" y="627" width="1" height="8"/><rect x="405" y="627" width="1" height="8"/><rect x="469" y="627" width="1" height="8"/><rect x="533" y="627" width="1" height="8"/><rect x="597" y="627" width="1" height="8"/><rect x="661" y="627" width="1" height="8"/><rect x="725" y="627" width="1" height="8"/><rect x="789" y="627" width="1" height="8"/><rect x="853" y="627" width="1" height="8"/><rect x="917" y="627" width="1" height="8"/><rect x="981" y="627" width="1" height="8"/><rect x="300" y="525" width="8" height="1"/><rect x="300" y="558" width="8" height="1"/><rect x="300" y="591" width="8" height="1"/><rect x="300" y="624" width="8" height="1"/></g>
<polyline points="341.0,737.9 344.2,730.6 347.4,722.6 350.7,715.1 353.9,707.7 357.1,700.5 360.3,693.4 363.5,689.3 366.7,688.4 370.0,688.7 373.2,689.4 376.4,689.9 379.6,690.2 382.8,690.2 386.0,690.1 389.3,690.2 392.5,690.9 395.7,693.6 398.9,698.4 402.1,703.8 405.4,709.5 408.6,715.1 411.8,720.8 415.0,726.6 418.2,732.1 421.4,737.9 424.7,743.8 427.9,749.0 431.1,753.6 434.3,757.5 437.5,759.9 440.7,761.2 444.0,761.9 447.2,762.1 450.4,762.1 453.6,762.1 456.8,762.1 460.1,762.1 463.3,762.0 466.5,761.9 469.7,761.8 472.9,761.7 476.1,761.5 479.4,761.2 482.6,760.7 485.8,760.2 489.0,759.7 492.2,759.2 495.4,758.8 498.7,758.4 501.9,758.2 505.1,757.9 508.3,757.7 511.5,757.4 514.7,757.0 518.0,756.2 521.2,755.2 524.4,753.5 527.6,751.0 530.8,747.4 534.1,742.7 537.3,737.2 540.5,731.2 543.7,725.3 546.9,719.4 550.1,713.5 553.4,708.1 556.6,703.6 559.8,700.4 563.0,698.3 566.2,697.1 569.4,696.9 572.7,697.2 575.9,698.3 579.1,700.3 582.3,702.6 585.5,705.8 588.8,709.6 592.0,713.5 595.2,717.9 598.4,722.6 601.6,726.6 604.8,729.7 608.1,732.0 611.3,733.6 614.5,734.4 617.7,734.7 620.9,733.9 624.1,732.5 627.4,730.4 630.6,727.6 633.8,723.8 637.0,719.5 640.2,715.1 643.5,710.9 646.7,707.5 649.9,705.0 653.1,703.4 656.3,703.1 659.5,703.1 662.8,704.0 666.0,706.0 669.2,709.0 672.4,713.0 675.6,718.0 678.8,723.5 682.1,728.8 685.3,734.4 688.5,740.3 691.7,745.1 694.9,748.5 698.2,750.8 701.4,752.0 704.6,752.6 707.8,752.7 711.0,752.5 714.2,752.2 717.5,752.1 720.7,751.8 723.9,751.5 727.1,751.4 730.3,751.3 733.5,751.2 736.8,751.2 740.0,751.1 743.2,751.0 746.4,750.9 749.6,750.7 752.9,750.6 756.1,750.5 759.3,750.3 762.5,750.2 765.7,750.1 768.9,750.0 772.2,749.9 775.4,749.7 778.6,749.6 781.8,749.5 785.0,749.4 788.2,749.3 791.5,749.2 794.7,749.1 797.9,748.9 801.1,748.8 804.3,748.7 807.6,748.5 810.8,748.4 814.0,748.3 817.2,748.1 820.4,747.9 823.6,747.8 826.9,747.6 830.1,747.5 833.3,747.4 836.5,747.3 839.7,747.2 842.9,747.2 846.2,747.1 849.4,747.0 852.6,746.9 855.8,746.7 859.0,746.4 862.2,746.2 865.5,745.9 868.7,745.6 871.9,745.4 875.1,745.1 878.3,744.9 881.6,744.7 884.8,744.5 888.0,744.3 891.2,744.2 894.4,744.0 897.6,743.8 900.9,743.6 904.1,743.5 907.3,743.3 910.5,743.1 913.7,743.0 916.9,742.8 920.2,742.7 923.4,742.6 926.6,742.4 929.8,742.3 933.0,742.2 936.3,742.0 939.5,741.9 942.7,741.8 945.9,741.7 949.1,741.6 952.3,741.6 955.6,741.5 958.8,741.4 962.0,741.3 965.2,741.3 968.4,741.2 971.6,741.1 974.9,741.1 978.1,741.0 981.3,740.9" fill="none" stroke="#ff7f0e" stroke-width="0.7" stroke-linejoin="round" marker-start="url(#mo)" marker-mid="url(#mo)" marker-end="url(#mo)"/>
<polyline points="341.0,738.6 344.2,746.5 347.4,754.2 350.7,761.1 353.9,768.3 357.1,775.5 360.3,781.9 363.5,785.5 366.7,785.3 370.0,783.6 373.2,782.5 376.4,782.2 379.6,782.8 382.8,784.2 386.0,786.0 389.3,786.9 392.5,786.6 395.7,784.5 398.9,780.8 402.1,775.3 405.4,768.9 408.6,763.2 411.8,757.3 415.0,751.6 418.2,746.3 421.4,740.9 424.7,735.4 427.9,729.9 431.1,724.4 434.3,719.1 437.5,713.7 440.7,708.3 444.0,703.4 447.2,700.1 450.4,698.2 453.6,696.9 456.8,696.2 460.1,695.8 463.3,695.8 466.5,696.1 469.7,697.3 472.9,699.9 476.1,703.7 479.4,708.0 482.6,712.8 485.8,718.7 489.0,724.8 492.2,730.9 495.4,736.9 498.7,742.7 501.9,748.2 505.1,753.6 508.3,758.2 511.5,763.1 514.7,766.9 518.0,769.7 521.2,771.4 524.4,772.4 527.6,772.7 530.8,772.7 534.1,772.2 537.3,771.2 540.5,769.6 543.7,767.6 546.9,765.1 550.1,762.0 553.4,758.8 556.6,755.6 559.8,752.3 563.0,749.2 566.2,746.6 569.4,744.7 572.7,743.3 575.9,742.3 579.1,741.9 582.3,741.9 585.5,742.4 588.8,743.5 592.0,744.9 595.2,746.9 598.4,749.7 601.6,752.9 604.8,756.0 608.1,758.8 611.3,761.7 614.5,764.3 617.7,766.6 620.9,768.7 624.1,770.5 627.4,771.9 630.6,772.9 633.8,773.2 637.0,773.2 640.2,772.5 643.5,770.8 646.7,768.5 649.9,765.4 653.1,761.3 656.3,756.9 659.5,752.7 662.8,749.1 666.0,745.8 669.2,742.8 672.4,740.1 675.6,737.9 678.8,736.5 682.1,735.7 685.3,735.2 688.5,734.9 691.7,734.7 694.9,734.5 698.2,734.4 701.4,734.4 704.6,734.4 707.8,734.6 711.0,734.8 714.2,735.1 717.5,735.5 720.7,736.1 723.9,736.8 727.1,737.2 730.3,737.5 733.5,737.5 736.8,737.5 740.0,737.3 743.2,736.9 746.4,736.0 749.6,734.8 752.9,733.3 756.1,731.2 759.3,728.3 762.5,725.1 765.7,721.6 768.9,717.9 772.2,713.8 775.4,709.7 778.6,705.9 781.8,702.3 785.0,698.6 788.2,695.4 791.5,692.9 794.7,691.2 797.9,690.3 801.1,690.1 804.3,690.4 807.6,691.2 810.8,692.6 814.0,694.6 817.2,697.4 820.4,700.6 823.6,704.1 826.9,707.5 830.1,710.8 833.3,713.9 836.5,716.7 839.7,718.8 842.9,720.5 846.2,721.6 849.4,722.4 852.6,722.3 855.8,722.0 859.0,721.1 862.2,719.4 865.5,717.1 868.7,714.3 871.9,711.3 875.1,708.3 878.3,705.4 881.6,702.7 884.8,700.8 888.0,699.8 891.2,699.3 894.4,699.9 897.6,701.4 900.9,704.2 904.1,708.6 907.3,712.9 910.5,717.2 913.7,721.8 916.9,726.3 920.2,731.9 923.4,738.3 926.6,743.9 929.8,748.0 933.0,750.2 936.3,751.4 939.5,752.0 942.7,752.3 945.9,752.4 949.1,752.5 952.3,752.5 955.6,752.5 958.8,752.4 962.0,752.3 965.2,752.2 968.4,752.2 971.6,752.1 974.9,752.1 978.1,752.1 981.3,752.0" fill="none" stroke="#2ca02c" stroke-width="0.7" stroke-linejoin="round" marker-start="url(#mg)" marker-mid="url(#mg)" marker-end="url(#mg)"/>
<polyline points="341.0,738.4 344.2,742.3 347.4,746.8 350.7,750.5 353.9,754.1 357.1,757.5 360.3,760.6 363.5,763.0 366.7,765.2 370.0,767.0 373.2,768.3 376.4,769.2 379.6,770.0 382.8,770.5 386.0,770.7 389.3,770.8 392.5,770.7 395.7,770.5 398.9,770.2 402.1,769.7 405.4,769.1 408.6,768.5 411.8,767.7 415.0,766.6 418.2,765.7 421.4,764.7 424.7,763.8 427.9,762.8 431.1,761.6 434.3,760.6 437.5,759.8 440.7,759.1 444.0,758.5 447.2,758.0 450.4,757.6 453.6,757.2 456.8,757.0 460.1,756.8 463.3,756.9 466.5,757.1 469.7,757.3 472.9,757.6 476.1,758.0 479.4,758.3 482.6,758.7 485.8,759.1 489.0,759.5 492.2,760.0 495.4,760.4 498.7,760.7 501.9,761.0 505.1,761.2 508.3,761.5 511.5,761.7 514.7,761.9 518.0,761.8 521.2,761.7 524.4,761.6 527.6,761.4 530.8,761.2 534.1,760.9 537.3,760.5 540.5,760.1 543.7,759.6 546.9,759.0 550.1,758.4 553.4,757.7 556.6,756.9 559.8,756.1 563.0,755.2 566.2,754.3 569.4,753.4 572.7,752.5 575.9,751.7 579.1,750.9 582.3,750.0 585.5,749.1 588.8,748.6 592.0,748.4 595.2,748.2 598.4,747.5 601.6,746.4 604.8,745.4 608.1,744.4 611.3,743.5 614.5,742.5 617.7,741.6 620.9,740.4 624.1,739.1 627.4,737.3 630.6,735.2 633.8,732.6 637.0,729.9 640.2,727.4 643.5,724.9 646.7,722.5 649.9,720.3 653.1,718.3 656.3,716.7 659.5,715.4 662.8,714.3 666.0,713.5 669.2,712.9 672.4,712.3 675.6,711.8 678.8,711.4 682.1,710.9 685.3,710.5 688.5,710.0 691.7,709.6 694.9,709.3 698.2,708.9 701.4,708.5 704.6,708.2 707.8,707.9 711.0,707.6 714.2,707.4 717.5,707.1 720.7,706.7 723.9,706.4 727.1,706.1 730.3,705.8 733.5,705.5 736.8,705.3 740.0,705.1 743.2,704.9 746.4,704.8 749.6,704.8 752.9,704.8 756.1,704.9 759.3,705.1 762.5,705.4 765.7,705.9 768.9,706.3 772.2,706.9 775.4,707.4 778.6,708.2 781.8,709.0 785.0,709.9 788.2,710.9 791.5,711.9 794.7,713.0 797.9,714.2 801.1,715.3 804.3,716.6 807.6,718.1 810.8,719.5 814.0,721.0 817.2,722.4 820.4,723.7 823.6,725.0 826.9,726.4 830.1,727.7 833.3,729.0 836.5,730.2 839.7,731.3 842.9,732.3 846.2,733.0 849.4,733.5 852.6,734.1 855.8,734.6 859.0,734.8 862.2,735.0 865.5,735.0 868.7,734.9 871.9,734.7 875.1,734.2 878.3,733.7 881.6,733.2 884.8,732.6 888.0,732.1 891.2,731.6 894.4,731.1 897.6,730.7 900.9,730.2 904.1,729.7 907.3,729.3 910.5,728.9 913.7,728.5 916.9,728.1 920.2,727.8 923.4,727.5 926.6,727.3 929.8,727.1 933.0,726.9 936.3,726.7 939.5,726.5 942.7,726.4 945.9,726.2 949.1,726.1 952.3,726.1 955.6,726.0 958.8,726.0 962.0,726.0 965.2,726.0 968.4,726.0 971.6,726.0 974.9,726.0 978.1,726.0 981.3,726.1" fill="none" stroke="#1f77b4" stroke-width="0.7" stroke-linejoin="round" marker-start="url(#mb)" marker-mid="url(#mb)" marker-end="url(#mb)"/>
<g shape-rendering="crispEdges" fill="#000"><rect x="308" y="683" width="705" height="1"/><rect x="308" y="792" width="705" height="1"/><rect x="308" y="683" width="1" height="110"/><rect x="1012" y="683" width="1" height="110"/><rect x="341" y="793" width="1" height="8"/><rect x="405" y="793" width="1" height="8"/><rect x="469" y="793" width="1" height="8"/><rect x="533" y="793" width="1" height="8"/><rect x="597" y="793" width="1" height="8"/><rect x="661" y="793" width="1" height="8"/><rect x="725" y="793" width="1" height="8"/><rect x="789" y="793" width="1" height="8"/><rect x="853" y="793" width="1" height="8"/><rect x="917" y="793" width="1" height="8"/><rect x="981" y="793" width="1" height="8"/><rect x="300" y="694" width="8" height="1"/><rect x="300" y="716" width="8" height="1"/><rect x="300" y="738" width="8" height="1"/><rect x="300" y="760" width="8" height="1"/><rect x="300" y="781" width="8" height="1"/></g>
<polyline points="341.0,900.9 344.2,892.6 347.4,884.3 350.7,876.3 353.9,868.8 357.1,861.7 360.3,856.0 363.5,853.6 366.7,854.8 370.0,857.3 373.2,860.2 376.4,862.9 379.6,865.5 382.8,868.1 386.0,870.9 389.3,873.6 392.5,876.2 395.7,878.7 398.9,880.7 402.1,882.4 405.4,883.6 408.6,884.4 411.8,884.8 415.0,885.0 418.2,884.8 421.4,884.3 424.7,883.6 427.9,882.8 431.1,882.3 434.3,882.1 437.5,882.1 440.7,882.5 444.0,883.1 447.2,884.0 450.4,885.0 453.6,886.0 456.8,887.1 460.1,888.1 463.3,889.0 466.5,890.0 469.7,891.1 472.9,892.2 476.1,893.2 479.4,894.3 482.6,895.4 485.8,896.5 489.0,897.5 492.2,898.5 495.4,899.4 498.7,900.2 501.9,900.9 505.1,901.7 508.3,902.5 511.5,903.4 514.7,904.4 518.0,905.7 521.2,907.5 524.4,909.9 527.6,912.7 530.8,916.0 534.1,919.7 537.3,923.4 540.5,926.8 543.7,930.1 546.9,932.8 550.1,934.8 553.4,935.9 556.6,936.4 559.8,936.4 563.0,936.1 566.2,935.2 569.4,934.2 572.7,933.3 575.9,932.8 579.1,932.7 582.3,933.0 585.5,934.0 588.8,935.7 592.0,937.4 595.2,939.6 598.4,942.1 601.6,944.9 604.8,947.5 608.1,949.5 611.3,951.0 614.5,952.0 617.7,952.4 620.9,952.3 624.1,951.7 627.4,950.3 630.6,948.4 633.8,946.3 637.0,944.1 640.2,941.9 643.5,940.0 646.7,938.6 649.9,937.7 653.1,937.4 656.3,937.5 659.5,938.0 662.8,938.7 666.0,939.2 669.2,939.2 672.4,938.7 675.6,937.6 678.8,935.7 682.1,933.0 685.3,929.3 688.5,925.1 691.7,920.7 694.9,917.3 698.2,914.8 701.4,912.9 704.6,911.6 707.8,910.8 711.0,910.2 714.2,909.7 717.5,909.4 720.7,909.0 723.9,909.0 727.1,909.0 730.3,908.9 733.5,908.4 736.8,907.6 740.0,907.0 743.2,906.6 746.4,906.3 749.6,905.9 752.9,905.6 756.1,905.3 759.3,905.0 762.5,904.7 765.7,904.4 768.9,904.2 772.2,903.9 775.4,903.7 778.6,903.5 781.8,903.4 785.0,903.2 788.2,903.1 791.5,902.9 794.7,902.7 797.9,902.6 801.1,902.4 804.3,902.3 807.6,902.2 810.8,902.2 814.0,902.1 817.2,902.0 820.4,902.0 823.6,901.9 826.9,901.9 830.1,901.8 833.3,901.8 836.5,901.8 839.7,901.7 842.9,901.7 846.2,901.7 849.4,901.7 852.6,901.7 855.8,901.7 859.0,901.7 862.2,901.7 865.5,901.8 868.7,901.8 871.9,901.8 875.1,901.8 878.3,901.8 881.6,901.9 884.8,901.9 888.0,901.9 891.2,901.9 894.4,901.9 897.6,901.9 900.9,901.9 904.1,901.9 907.3,901.9 910.5,901.9 913.7,901.9 916.9,901.9 920.2,901.9 923.4,901.9 926.6,901.9 929.8,901.9 933.0,901.9 936.3,901.9 939.5,901.9 942.7,901.9 945.9,901.9 949.1,901.9 952.3,901.9 955.6,901.9 958.8,901.9 962.0,901.9 965.2,901.9 968.4,901.9 971.6,901.9 974.9,901.9 978.1,901.9 981.3,901.9" fill="none" stroke="#ff7f0e" stroke-width="0.7" stroke-linejoin="round" marker-start="url(#mo)" marker-mid="url(#mo)" marker-end="url(#mo)"/>
<polyline points="341.0,901.7 344.2,910.9 347.4,918.8 350.7,926.3 353.9,933.7 357.1,940.3 360.3,945.7 363.5,947.6 366.7,946.0 370.0,942.8 373.2,940.0 376.4,938.0 379.6,936.0 382.8,934.0 386.0,931.7 389.3,929.4 392.5,926.9 395.7,924.3 398.9,921.9 402.1,919.9 405.4,918.2 408.6,916.7 411.8,915.5 415.0,914.6 418.2,914.2 421.4,914.0 424.7,913.9 427.9,914.1 431.1,914.5 434.3,915.0 437.5,915.6 440.7,916.3 444.0,916.6 447.2,916.8 450.4,916.7 453.6,916.3 456.8,915.6 460.1,914.8 463.3,913.8 466.5,912.6 469.7,911.0 472.9,908.7 476.1,906.0 479.4,902.7 482.6,898.5 485.8,894.0 489.0,889.3 492.2,884.7 495.4,881.0 498.7,877.9 501.9,875.6 505.1,874.0 508.3,872.9 511.5,872.2 514.7,871.9 518.0,871.8 521.2,871.8 524.4,872.0 527.6,872.3 530.8,872.6 534.1,872.8 537.3,872.8 540.5,872.5 543.7,871.9 546.9,871.0 550.1,869.8 553.4,868.2 556.6,866.4 559.8,864.3 563.0,862.3 566.2,860.4 569.4,859.0 572.7,858.0 575.9,857.3 579.1,857.0 582.3,857.0 585.5,857.2 588.8,857.7 592.0,858.5 595.2,859.6 598.4,860.9 601.6,862.3 604.8,863.8 608.1,865.5 611.3,867.0 614.5,868.3 617.7,869.4 620.9,870.5 624.1,871.3 627.4,871.9 630.6,872.2 633.8,872.2 637.0,872.1 640.2,871.9 643.5,871.7 646.7,871.7 649.9,871.9 653.1,872.7 656.3,874.2 659.5,876.3 662.8,878.8 666.0,881.2 669.2,883.5 672.4,885.6 675.6,887.5 678.8,889.3 682.1,890.7 685.3,891.9 688.5,893.1 691.7,894.3 694.9,895.4 698.2,896.5 701.4,897.4 704.6,898.2 707.8,898.9 711.0,899.5 714.2,900.0 717.5,900.5 720.7,900.9 723.9,901.1 727.1,901.2 730.3,901.8 733.5,902.7 736.8,903.6 740.0,904.8 743.2,906.2 746.4,907.9 749.6,909.8 752.9,912.0 756.1,914.3 759.3,916.7 762.5,919.3 765.7,922.0 768.9,924.6 772.2,926.9 775.4,928.9 778.6,930.6 781.8,931.9 785.0,932.8 788.2,933.3 791.5,933.5 794.7,933.6 797.9,933.5 801.1,933.3 804.3,933.2 807.6,933.2 810.8,933.4 814.0,934.2 817.2,935.4 820.4,937.1 823.6,939.2 826.9,941.2 830.1,942.9 833.3,944.5 836.5,945.8 839.7,946.7 842.9,947.4 846.2,947.9 849.4,948.2 852.6,948.2 855.8,948.0 859.0,947.6 862.2,946.7 865.5,945.3 868.7,943.7 871.9,942.0 875.1,940.5 878.3,939.3 881.6,938.5 884.8,938.2 888.0,938.2 891.2,938.7 894.4,939.4 897.6,939.9 900.9,940.2 904.1,940.0 907.3,939.2 910.5,937.5 913.7,934.9 916.9,932.0 920.2,927.8 923.4,923.1 926.6,919.0 929.8,915.5 933.0,913.0 936.3,911.0 939.5,909.5 942.7,908.3 945.9,907.3 949.1,906.6 952.3,906.0 955.6,905.5 958.8,905.0 962.0,904.5 965.2,904.1 968.4,903.7 971.6,903.3 974.9,902.9 978.1,902.5 981.3,902.2" fill="none" stroke="#2ca02c" stroke-width="0.7" stroke-linejoin="round" marker-start="url(#mg)" marker-mid="url(#mg)" marker-end="url(#mg)"/>
<polyline points="341.0,901.5 344.2,906.4 347.4,910.7 350.7,914.5 353.9,918.0 357.1,921.3 360.3,924.0 363.5,926.3 366.7,927.9 370.0,928.9 373.2,929.3 376.4,929.2 379.6,928.6 382.8,927.4 386.0,926.1 389.3,924.6 392.5,922.9 395.7,921.0 398.9,919.2 402.1,917.4 405.4,915.6 408.6,913.8 411.8,912.0 415.0,910.3 418.2,908.6 421.4,906.8 424.7,905.1 427.9,903.5 431.1,901.9 434.3,900.3 437.5,898.7 440.7,897.2 444.0,895.9 447.2,894.7 450.4,893.7 453.6,892.7 456.8,891.9 460.1,891.3 463.3,890.8 466.5,890.4 469.7,890.1 472.9,889.9 476.1,889.6 479.4,889.4 482.6,889.2 485.8,889.1 489.0,888.9 492.2,888.6 495.4,888.3 498.7,888.1 501.9,887.8 505.1,887.4 508.3,886.9 511.5,886.4 514.7,885.8 518.0,885.2 521.2,884.5 524.4,883.8 527.6,883.0 530.8,882.1 534.1,881.3 537.3,880.5 540.5,879.7 543.7,879.0 546.9,878.2 550.1,877.6 553.4,877.0 556.6,876.6 559.8,876.3 563.0,876.1 566.2,876.0 569.4,876.1 572.7,876.5 575.9,877.4 579.1,878.4 582.3,879.9 585.5,881.7 588.8,884.0 592.0,885.9 595.2,888.4 598.4,891.7 601.6,894.9 604.8,898.3 608.1,902.0 611.3,905.4 614.5,908.5 617.7,910.9 620.9,912.2 624.1,910.5 627.4,906.8 630.6,901.3 633.8,895.8 637.0,890.1 640.2,885.3 643.5,881.1 646.7,877.7 649.9,875.0 653.1,873.1 656.3,871.8 659.5,871.2 662.8,870.9 666.0,870.8 669.2,871.0 672.4,871.4 675.6,872.1 678.8,872.9 682.1,873.9 685.3,874.9 688.5,875.9 691.7,877.2 694.9,878.3 698.2,879.3 701.4,880.4 704.6,881.6 707.8,882.7 711.0,883.8 714.2,884.9 717.5,885.9 720.7,886.9 723.9,887.6 727.1,888.3 730.3,889.4 733.5,890.7 736.8,891.8 740.0,892.8 743.2,893.8 746.4,894.8 749.6,895.6 752.9,896.4 756.1,897.2 759.3,897.8 762.5,898.4 765.7,898.9 768.9,899.3 772.2,899.6 775.4,899.9 778.6,900.2 781.8,900.3 785.0,900.4 788.2,900.4 791.5,900.4 794.7,900.2 797.9,900.0 801.1,899.7 804.3,899.2 807.6,898.7 810.8,898.1 814.0,897.4 817.2,896.7 820.4,895.9 823.6,895.1 826.9,894.5 830.1,893.8 833.3,893.3 836.5,892.8 839.7,892.3 842.9,891.9 846.2,891.6 849.4,891.4 852.6,891.3 855.8,891.2 859.0,891.2 862.2,891.3 865.5,891.6 868.7,892.0 871.9,892.5 875.1,893.0 878.3,893.7 881.6,894.3 884.8,894.9 888.0,895.6 891.2,896.2 894.4,896.8 897.6,897.5 900.9,898.0 904.1,898.5 907.3,899.0 910.5,899.4 913.7,899.8 916.9,900.1 920.2,900.4 923.4,900.6 926.6,900.8 929.8,901.0 933.0,901.1 936.3,901.3 939.5,901.4 942.7,901.5 945.9,901.6 949.1,901.7 952.3,901.8 955.6,901.8 958.8,901.9 962.0,901.9 965.2,901.9 968.4,901.9 971.6,902.0 974.9,902.0 978.1,902.0 981.3,902.0" fill="none" stroke="#1f77b4" stroke-width="0.7" stroke-linejoin="round" marker-start="url(#mb)" marker-mid="url(#mb)" marker-end="url(#mb)"/>
<g shape-rendering="crispEdges" fill="#000"><rect x="309" y="849" width="705" height="1"/><rect x="309" y="957" width="705" height="1"/><rect x="309" y="849" width="1" height="109"/><rect x="1013" y="849" width="1" height="109"/><rect x="341" y="958" width="1" height="8"/><rect x="405" y="958" width="1" height="8"/><rect x="469" y="958" width="1" height="8"/><rect x="533" y="958" width="1" height="8"/><rect x="597" y="958" width="1" height="8"/><rect x="661" y="958" width="1" height="8"/><rect x="725" y="958" width="1" height="8"/><rect x="789" y="958" width="1" height="8"/><rect x="853" y="958" width="1" height="8"/><rect x="917" y="958" width="1" height="8"/><rect x="981" y="958" width="1" height="8"/><rect x="300" y="861" width="9" height="1"/><rect x="300" y="901" width="9" height="1"/><rect x="300" y="941" width="9" height="1"/></g>
<polyline points="341.0,1071.7 344.2,1071.7 347.4,1071.5 350.7,1071.2 353.9,1070.8 357.1,1069.6 360.3,1066.9 363.5,1064.0 366.7,1060.6 370.0,1057.4 373.2,1054.3 376.4,1051.5 379.6,1049.2 382.8,1047.1 386.0,1045.7 389.3,1044.7 392.5,1044.0 395.7,1044.1 398.9,1044.8 402.1,1045.8 405.4,1047.7 408.6,1049.6 411.8,1051.4 415.0,1053.3 418.2,1055.0 421.4,1056.7 424.7,1058.1 427.9,1059.5 431.1,1060.7 434.3,1061.4 437.5,1062.0 440.7,1062.2 444.0,1062.2 447.2,1062.2 450.4,1062.2 453.6,1062.2 456.8,1062.2 460.1,1062.2 463.3,1062.2 466.5,1062.2 469.7,1062.2 472.9,1062.3 476.1,1062.3 479.4,1062.4 482.6,1062.5 485.8,1062.6 489.0,1062.7 492.2,1062.8 495.4,1062.9 498.7,1063.0 501.9,1063.1 505.1,1063.1 508.3,1063.2 511.5,1063.2 514.7,1063.3 518.0,1063.4 521.2,1063.5 524.4,1063.6 527.6,1063.8 530.8,1064.3 534.1,1065.4 537.3,1066.9 540.5,1069.6 543.7,1072.9 546.9,1076.5 550.1,1080.3 553.4,1084.4 556.6,1088.3 559.8,1092.1 563.0,1095.5 566.2,1098.4 569.4,1100.9 572.7,1102.9 575.9,1104.5 579.1,1105.7 582.3,1106.8 585.5,1107.9 588.8,1109.2 592.0,1110.6 595.2,1112.1 598.4,1113.8 601.6,1115.3 604.8,1116.5 608.1,1117.4 611.3,1118.0 614.5,1118.2 617.7,1117.9 620.9,1117.0 624.1,1115.7 627.4,1113.9 630.6,1112.0 633.8,1110.2 637.0,1108.7 640.2,1107.4 643.5,1106.1 646.7,1104.9 649.9,1103.8 653.1,1102.6 656.3,1101.2 659.5,1099.5 662.8,1097.2 666.0,1094.2 669.2,1090.8 672.4,1087.1 675.6,1083.5 678.8,1080.3 682.1,1078.1 685.3,1076.5 688.5,1075.6 691.7,1075.0 694.9,1074.7 698.2,1074.5 701.4,1074.4 704.6,1074.3 707.8,1074.2 711.0,1074.1 714.2,1074.1 717.5,1074.0 720.7,1074.0 723.9,1074.0 727.1,1074.0 730.3,1074.0 733.5,1074.0 736.8,1074.0 740.0,1074.0 743.2,1074.0 746.4,1074.0 749.6,1074.0 752.9,1074.0 756.1,1073.9 759.3,1073.9 762.5,1073.8 765.7,1073.8 768.9,1073.8 772.2,1073.7 775.4,1073.7 778.6,1073.6 781.8,1073.6 785.0,1073.5 788.2,1073.5 791.5,1073.4 794.7,1073.4 797.9,1073.3 801.1,1073.3 804.3,1073.2 807.6,1073.2 810.8,1073.1 814.0,1073.1 817.2,1073.1 820.4,1073.0 823.6,1073.0 826.9,1072.9 830.1,1072.9 833.3,1072.9 836.5,1072.9 839.7,1072.9 842.9,1072.9 846.2,1072.9 849.4,1072.9 852.6,1072.9 855.8,1072.9 859.0,1072.9 862.2,1072.9 865.5,1072.9 868.7,1072.9 871.9,1072.9 875.1,1072.8 878.3,1072.8 881.6,1072.8 884.8,1072.8 888.0,1072.7 891.2,1072.7 894.4,1072.7 897.6,1072.6 900.9,1072.6 904.1,1072.5 907.3,1072.5 910.5,1072.5 913.7,1072.4 916.9,1072.4 920.2,1072.3 923.4,1072.3 926.6,1072.3 929.8,1072.2 933.0,1072.2 936.3,1072.2 939.5,1072.2 942.7,1072.1 945.9,1072.1 949.1,1072.1 952.3,1072.0 955.6,1072.0 958.8,1072.0 962.0,1071.9 965.2,1071.9 968.4,1071.9 971.6,1071.8 974.9,1071.8 978.1,1071.8 981.3,1071.7" fill="none" stroke="#ff7f0e" stroke-width="0.7" stroke-linejoin="round" marker-start="url(#mo)" marker-mid="url(#mo)" marker-end="url(#mo)"/>
<polyline points="341.0,1071.7 344.2,1071.7 347.4,1071.9 350.7,1072.0 353.9,1072.3 357.1,1073.1 360.3,1074.9 363.5,1077.0 366.7,1079.7 370.0,1082.5 373.2,1085.4 376.4,1088.3 379.6,1091.3 382.8,1094.2 386.0,1096.5 389.3,1098.6 392.5,1099.8 395.7,1099.8 398.9,1099.8 402.1,1098.4 405.4,1096.4 408.6,1094.6 411.8,1092.9 415.0,1091.5 418.2,1090.2 421.4,1089.1 424.7,1087.9 427.9,1087.1 431.1,1086.5 434.3,1086.1 437.5,1085.8 440.7,1085.6 444.0,1085.5 447.2,1085.4 450.4,1085.4 453.6,1085.4 456.8,1085.4 460.1,1085.4 463.3,1085.4 466.5,1085.2 469.7,1084.8 472.9,1084.4 476.1,1083.8 479.4,1082.7 482.6,1081.4 485.8,1079.9 489.0,1078.1 492.2,1076.0 495.4,1073.7 498.7,1071.2 501.9,1068.4 505.1,1065.2 508.3,1061.9 511.5,1058.8 514.7,1055.8 518.0,1053.1 521.2,1050.8 524.4,1048.7 527.6,1046.8 530.8,1045.3 534.1,1043.9 537.3,1042.6 540.5,1041.5 543.7,1040.5 546.9,1039.5 550.1,1038.5 553.4,1037.5 556.6,1036.2 559.8,1034.9 563.0,1033.6 566.2,1032.3 569.4,1031.1 572.7,1029.9 575.9,1029.2 579.1,1028.9 582.3,1028.8 585.5,1029.2 588.8,1030.0 592.0,1031.3 595.2,1032.9 598.4,1034.7 601.6,1036.4 604.8,1038.0 608.1,1039.3 611.3,1040.5 614.5,1041.5 617.7,1042.3 620.9,1043.1 624.1,1044.0 627.4,1045.0 630.6,1046.1 633.8,1047.3 637.0,1049.1 640.2,1051.2 643.5,1053.5 646.7,1056.0 649.9,1058.7 653.1,1061.6 656.3,1064.2 659.5,1066.6 662.8,1068.5 666.0,1070.1 669.2,1071.1 672.4,1071.9 675.6,1072.4 678.8,1072.8 682.1,1072.9 685.3,1072.9 688.5,1072.9 691.7,1072.8 694.9,1072.7 698.2,1072.6 701.4,1072.4 704.6,1072.3 707.8,1072.1 711.0,1072.0 714.2,1071.9 717.5,1071.9 720.7,1071.8 723.9,1071.8 727.1,1071.7 730.3,1071.6 733.5,1071.5 736.8,1071.3 740.0,1071.3 743.2,1071.2 746.4,1071.3 749.6,1071.3 752.9,1071.4 756.1,1071.6 759.3,1071.7 762.5,1072.3 765.7,1073.2 768.9,1074.3 772.2,1075.9 775.4,1077.8 778.6,1080.2 781.8,1082.9 785.0,1085.6 788.2,1088.2 791.5,1090.7 794.7,1093.0 797.9,1095.1 801.1,1096.9 804.3,1098.4 807.6,1099.6 810.8,1100.7 814.0,1101.6 817.2,1102.6 820.4,1103.5 823.6,1104.5 826.9,1105.8 830.1,1107.5 833.3,1109.2 836.5,1110.9 839.7,1112.5 842.9,1113.9 846.2,1115.0 849.4,1115.9 852.6,1116.1 855.8,1115.7 859.0,1114.9 862.2,1113.4 865.5,1111.7 868.7,1110.1 871.9,1108.5 875.1,1107.1 878.3,1105.8 881.6,1104.6 884.8,1103.2 888.0,1101.8 891.2,1100.0 894.4,1097.7 897.6,1094.8 900.9,1091.1 904.1,1087.5 907.3,1084.1 910.5,1081.3 913.7,1079.0 916.9,1077.5 920.2,1076.5 923.4,1075.9 926.6,1075.7 929.8,1075.7 933.0,1075.6 936.3,1075.6 939.5,1075.7 942.7,1075.7 945.9,1075.7 949.1,1075.8 952.3,1075.8 955.6,1075.8 958.8,1075.9 962.0,1075.9 965.2,1075.9 968.4,1076.0 971.6,1076.0 974.9,1076.0 978.1,1076.1 981.3,1076.1" fill="none" stroke="#2ca02c" stroke-width="0.7" stroke-linejoin="round" marker-start="url(#mg)" marker-mid="url(#mg)" marker-end="url(#mg)"/>
<polyline points="341.0,1071.7 344.2,1071.7 347.4,1071.7 350.7,1071.7 353.9,1071.7 357.1,1071.9 360.3,1072.4 363.5,1073.1 366.7,1074.1 370.0,1075.3 373.2,1076.5 376.4,1077.8 379.6,1079.2 382.8,1080.5 386.0,1081.9 389.3,1083.1 392.5,1084.2 395.7,1085.2 398.9,1086.1 402.1,1086.8 405.4,1087.4 408.6,1087.8 411.8,1088.0 415.0,1088.2 418.2,1088.3 421.4,1088.4 424.7,1088.3 427.9,1088.2 431.1,1088.1 434.3,1088.0 437.5,1088.0 440.7,1088.0 444.0,1087.9 447.2,1087.9 450.4,1087.8 453.6,1087.6 456.8,1087.4 460.1,1087.1 463.3,1086.7 466.5,1086.2 469.7,1085.6 472.9,1084.8 476.1,1083.9 479.4,1082.9 482.6,1081.9 485.8,1080.8 489.0,1079.7 492.2,1078.6 495.4,1077.6 498.7,1076.5 501.9,1075.4 505.1,1074.4 508.3,1073.3 511.5,1072.1 514.7,1070.7 518.0,1069.5 521.2,1068.7 524.4,1068.2 527.6,1067.6 530.8,1066.8 534.1,1065.4 537.3,1063.7 540.5,1062.2 543.7,1060.7 546.9,1059.3 550.1,1057.8 553.4,1056.2 556.6,1054.6 559.8,1053.0 563.0,1051.4 566.2,1049.7 569.4,1048.1 572.7,1046.5 575.9,1044.9 579.1,1043.3 582.3,1041.7 585.5,1040.1 588.8,1038.5 592.0,1036.9 595.2,1035.3 598.4,1033.7 601.6,1031.8 604.8,1029.9 608.1,1027.7 611.3,1025.3 614.5,1022.7 617.7,1020.2 620.9,1019.0 624.1,1019.9 627.4,1022.5 630.6,1025.9 633.8,1029.1 637.0,1032.0 640.2,1034.8 643.5,1037.6 646.7,1040.4 649.9,1043.2 653.1,1046.1 656.3,1048.9 659.5,1051.7 662.8,1054.4 666.0,1056.9 669.2,1059.3 672.4,1061.6 675.6,1063.6 678.8,1065.4 682.1,1067.1 685.3,1068.6 688.5,1069.8 691.7,1070.9 694.9,1071.7 698.2,1072.3 701.4,1072.7 704.6,1073.1 707.8,1073.3 711.0,1073.4 714.2,1073.5 717.5,1073.6 720.7,1073.6 723.9,1073.7 727.1,1073.7 730.3,1073.6 733.5,1073.6 736.8,1073.5 740.0,1073.4 743.2,1073.3 746.4,1073.2 749.6,1073.0 752.9,1072.9 756.1,1072.7 759.3,1072.5 762.5,1072.4 765.7,1072.2 768.9,1072.1 772.2,1071.9 775.4,1071.7 778.6,1071.5 781.8,1071.3 785.0,1071.0 788.2,1070.8 791.5,1070.6 794.7,1070.4 797.9,1070.2 801.1,1070.0 804.3,1069.8 807.6,1069.6 810.8,1069.5 814.0,1069.3 817.2,1069.2 820.4,1069.1 823.6,1069.0 826.9,1068.8 830.1,1068.7 833.3,1068.6 836.5,1068.5 839.7,1068.5 842.9,1068.4 846.2,1068.3 849.4,1068.3 852.6,1068.3 855.8,1068.3 859.0,1068.3 862.2,1068.4 865.5,1068.4 868.7,1068.4 871.9,1068.5 875.1,1068.6 878.3,1068.7 881.6,1068.8 884.8,1068.9 888.0,1069.0 891.2,1069.2 894.4,1069.3 897.6,1069.4 900.9,1069.6 904.1,1069.7 907.3,1069.9 910.5,1070.0 913.7,1070.2 916.9,1070.4 920.2,1070.5 923.4,1070.7 926.6,1070.9 929.8,1071.0 933.0,1071.2 936.3,1071.3 939.5,1071.4 942.7,1071.5 945.9,1071.6 949.1,1071.7 952.3,1071.8 955.6,1071.8 958.8,1071.9 962.0,1071.9 965.2,1072.0 968.4,1072.1 971.6,1072.1 974.9,1072.2 978.1,1072.3 981.3,1072.4" fill="none" stroke="#1f77b4" stroke-width="0.7" stroke-linejoin="round" marker-start="url(#mb)" marker-mid="url(#mb)" marker-end="url(#mb)"/>
<g shape-rendering="crispEdges" fill="#000"><rect x="309" y="1014" width="705" height="1"/><rect x="309" y="1123" width="705" height="1"/><rect x="309" y="1014" width="1" height="110"/><rect x="1013" y="1014" width="1" height="110"/><rect x="341" y="1124" width="1" height="8"/><rect x="405" y="1124" width="1" height="8"/><rect x="469" y="1124" width="1" height="8"/><rect x="533" y="1124" width="1" height="8"/><rect x="597" y="1124" width="1" height="8"/><rect x="661" y="1124" width="1" height="8"/><rect x="725" y="1124" width="1" height="8"/><rect x="789" y="1124" width="1" height="8"/><rect x="853" y="1124" width="1" height="8"/><rect x="917" y="1124" width="1" height="8"/><rect x="981" y="1124" width="1" height="8"/><rect x="300" y="1019" width="9" height="1"/><rect x="300" y="1045" width="9" height="1"/><rect x="300" y="1071" width="9" height="1"/><rect x="300" y="1097" width="9" height="1"/></g>
<polyline points="341.0,1193.1 344.2,1185.1 347.4,1193.8 350.7,1192.6 353.9,1194.1 357.1,1195.0 360.3,1195.7 363.5,1217.3 366.7,1230.3 370.0,1234.7 373.2,1233.7 376.4,1231.6 379.6,1229.4 382.8,1228.7 386.0,1230.5 389.3,1236.2 392.5,1246.4 395.7,1257.7 398.9,1270.4 402.1,1277.8 405.4,1277.8 408.6,1278.2 411.8,1278.3 415.0,1278.3 418.2,1278.3 421.4,1278.4 424.7,1278.2 427.9,1272.3 431.1,1261.8 434.3,1253.7 437.5,1248.1 440.7,1243.4 444.0,1239.7 447.2,1237.6 450.4,1236.7 453.6,1236.4 456.8,1236.3 460.1,1236.2 463.3,1236.1 466.5,1236.1 469.7,1236.1 472.9,1236.1 476.1,1236.1 479.4,1236.1 482.6,1236.1 485.8,1236.1 489.0,1236.1 492.2,1236.1 495.4,1236.0 498.7,1236.0 501.9,1235.8 505.1,1235.7 508.3,1235.3 511.5,1234.7 514.7,1233.5 518.0,1231.4 521.2,1227.9 524.4,1222.2 527.6,1216.1 530.8,1208.7 534.1,1200.9 537.3,1195.9 540.5,1195.7 543.7,1195.7 546.9,1195.7 550.1,1195.7 553.4,1195.7 556.6,1198.8 559.8,1206.6 563.0,1214.9 566.2,1222.7 569.4,1230.0 572.7,1236.7 575.9,1241.6 579.1,1245.7 582.3,1249.2 585.5,1251.8 588.8,1253.3 592.0,1253.8 595.2,1253.3 598.4,1251.6 601.6,1248.4 604.8,1244.0 608.1,1240.6 611.3,1238.6 614.5,1237.1 617.7,1236.0 620.9,1234.9 624.1,1233.2 627.4,1230.4 630.6,1227.3 633.8,1223.9 637.0,1221.2 640.2,1220.7 643.5,1222.5 646.7,1225.9 649.9,1230.2 653.1,1235.6 656.3,1242.2 659.5,1250.0 662.8,1257.8 666.0,1266.2 669.2,1274.9 672.4,1277.9 675.6,1277.9 678.8,1277.9 682.1,1277.9 685.3,1277.9 688.5,1277.9 691.7,1267.9 694.9,1256.5 698.2,1247.0 701.4,1241.6 704.6,1238.1 707.8,1236.4 711.0,1235.4 714.2,1234.9 717.5,1234.7 720.7,1234.5 723.9,1234.5 727.1,1234.5 730.3,1234.5 733.5,1234.5 736.8,1234.5 740.0,1234.6 743.2,1234.7 746.4,1234.8 749.6,1234.9 752.9,1235.0 756.1,1235.1 759.3,1235.1 762.5,1235.1 765.7,1235.2 768.9,1235.2 772.2,1235.2 775.4,1235.2 778.6,1235.2 781.8,1235.2 785.0,1235.2 788.2,1235.2 791.5,1235.2 794.7,1235.2 797.9,1235.2 801.1,1235.2 804.3,1235.2 807.6,1235.2 810.8,1235.2 814.0,1235.2 817.2,1235.1 820.4,1235.1 823.6,1235.1 826.9,1235.0 830.1,1235.0 833.3,1234.9 836.5,1234.8 839.7,1234.7 842.9,1234.6 846.2,1234.5 849.4,1234.4 852.6,1234.3 855.8,1234.3 859.0,1234.4 862.2,1234.5 865.5,1234.6 868.7,1234.7 871.9,1234.8 875.1,1234.8 878.3,1234.9 881.6,1234.9 884.8,1235.0 888.0,1235.0 891.2,1235.1 894.4,1235.1 897.6,1235.2 900.9,1235.2 904.1,1235.2 907.3,1235.2 910.5,1235.2 913.7,1235.2 916.9,1235.2 920.2,1235.2 923.4,1235.2 926.6,1235.2 929.8,1235.2 933.0,1235.2 936.3,1235.2 939.5,1235.2 942.7,1235.2 945.9,1235.2 949.1,1235.3 952.3,1235.4 955.6,1235.4 958.8,1235.4 962.0,1235.4 965.2,1235.4 968.4,1235.4 971.6,1235.4 974.9,1235.4 978.1,1235.4 981.3,1235.4" fill="none" stroke="#ff7f0e" stroke-width="0.7" stroke-linejoin="round" marker-start="url(#mo)" marker-mid="url(#mo)" marker-end="url(#mo)"/>
<polyline points="341.0,1283.5 344.2,1278.5 347.4,1283.8 350.7,1277.8 353.9,1280.7 357.1,1279.2 360.3,1278.0 363.5,1246.4 366.7,1235.4 370.0,1235.1 373.2,1238.5 376.4,1245.0 379.6,1250.6 382.8,1254.9 386.0,1254.2 389.3,1245.7 392.5,1232.4 395.7,1218.5 398.9,1206.0 402.1,1195.9 405.4,1195.2 408.6,1195.7 411.8,1196.0 415.0,1196.0 418.2,1195.1 421.4,1195.1 424.7,1195.1 427.9,1195.1 431.1,1195.1 434.3,1195.1 437.5,1196.0 440.7,1200.1 444.0,1208.2 447.2,1216.1 450.4,1229.1 453.6,1230.6 456.8,1232.3 460.1,1233.8 463.3,1236.4 466.5,1244.1 469.7,1252.1 472.9,1258.5 476.1,1265.0 479.4,1271.5 482.6,1277.5 485.8,1277.9 489.0,1277.9 492.2,1277.9 495.4,1277.9 498.7,1277.9 501.9,1277.9 505.1,1277.9 508.3,1277.9 511.5,1267.9 514.7,1260.2 518.0,1254.5 521.2,1250.4 524.4,1246.7 527.6,1242.7 530.8,1239.5 534.1,1236.3 537.3,1233.1 540.5,1230.8 543.7,1228.0 546.9,1225.9 550.1,1224.6 553.4,1224.0 556.6,1224.1 559.8,1224.6 563.0,1226.0 566.2,1227.7 569.4,1229.7 572.7,1231.9 575.9,1234.3 579.1,1235.9 582.3,1237.2 585.5,1238.4 588.8,1239.8 592.0,1241.5 595.2,1243.0 598.4,1244.0 601.6,1244.8 604.8,1245.4 608.1,1246.0 611.3,1246.8 614.5,1247.1 617.7,1246.9 620.9,1245.8 624.1,1243.7 627.4,1240.8 630.6,1236.7 633.8,1232.1 637.0,1227.3 640.2,1222.8 643.5,1218.6 646.7,1213.8 649.9,1210.2 653.1,1207.0 656.3,1205.2 659.5,1205.0 662.8,1206.7 666.0,1210.7 669.2,1215.4 672.4,1220.0 675.6,1225.1 678.8,1230.6 682.1,1233.1 685.3,1234.7 688.5,1235.8 691.7,1236.5 694.9,1236.9 698.2,1237.3 701.4,1238.0 704.6,1238.9 707.8,1239.7 711.0,1240.3 714.2,1240.9 717.5,1241.1 720.7,1240.9 723.9,1240.6 727.1,1240.1 730.3,1239.4 733.5,1238.4 736.8,1237.0 740.0,1235.3 743.2,1233.4 746.4,1231.0 749.6,1228.0 752.9,1224.4 756.1,1219.8 759.3,1215.2 762.5,1211.1 765.7,1207.4 768.9,1204.6 772.2,1203.0 775.4,1202.0 778.6,1202.2 781.8,1203.5 785.0,1206.4 788.2,1210.5 791.5,1215.0 794.7,1219.6 797.9,1224.7 801.1,1229.3 804.3,1234.3 807.6,1238.9 810.8,1243.0 814.0,1246.7 817.2,1249.1 820.4,1250.2 823.6,1249.8 826.9,1248.1 830.1,1244.7 833.3,1241.6 836.5,1239.8 839.7,1238.8 842.9,1238.4 846.2,1238.2 849.4,1238.0 852.6,1237.8 855.8,1237.3 859.0,1236.0 862.2,1234.3 865.5,1232.0 868.7,1229.2 871.9,1227.5 875.1,1226.7 878.3,1227.3 881.6,1229.9 884.8,1234.3 888.0,1239.5 891.2,1245.7 894.4,1254.2 897.6,1263.6 900.9,1273.7 904.1,1277.7 907.3,1277.7 910.5,1277.7 913.7,1277.7 916.9,1277.7 920.2,1277.7 923.4,1275.9 926.6,1264.2 929.8,1255.6 933.0,1248.3 936.3,1243.2 939.5,1239.9 942.7,1238.0 945.9,1237.2 949.1,1236.7 952.3,1236.2 955.6,1235.9 958.8,1235.8 962.0,1235.7 965.2,1235.6 968.4,1235.6 971.6,1235.5 974.9,1235.5 978.1,1235.5 981.3,1235.5" fill="none" stroke="#2ca02c" stroke-width="0.7" stroke-linejoin="round" marker-start="url(#mg)" marker-mid="url(#mg)" marker-end="url(#mg)"/>
<polyline points="341.0,1262.1 344.2,1260.5 347.4,1258.9 350.7,1257.3 353.9,1255.7 357.1,1254.1 360.3,1252.5 363.5,1250.9 366.7,1249.2 370.0,1247.6 373.2,1246.0 376.4,1244.2 379.6,1242.6 382.8,1241.1 386.0,1239.8 389.3,1238.7 392.5,1237.8 395.7,1236.9 398.9,1236.0 402.1,1235.0 405.4,1234.0 408.6,1233.3 411.8,1232.7 415.0,1232.3 418.2,1232.1 421.4,1232.1 424.7,1232.0 427.9,1232.0 431.1,1232.1 434.3,1232.3 437.5,1232.6 440.7,1233.0 444.0,1233.4 447.2,1234.2 450.4,1235.3 453.6,1236.3 456.8,1237.3 460.1,1238.3 463.3,1239.2 466.5,1240.0 469.7,1240.7 472.9,1241.2 476.1,1241.6 479.4,1241.8 482.6,1241.8 485.8,1241.8 489.0,1241.8 492.2,1241.6 495.4,1241.3 498.7,1241.0 501.9,1240.6 505.1,1240.2 508.3,1239.8 511.5,1239.2 514.7,1238.6 518.0,1237.9 521.2,1237.3 524.4,1236.6 527.6,1236.0 530.8,1235.4 534.1,1234.9 537.3,1234.8 540.5,1234.6 543.7,1234.0 546.9,1233.4 550.1,1232.8 553.4,1232.3 556.6,1232.0 559.8,1231.7 563.0,1231.4 566.2,1231.2 569.4,1231.0 572.7,1230.9 575.9,1230.7 579.1,1230.6 582.3,1230.4 585.5,1230.2 588.8,1230.0 592.0,1229.6 595.2,1229.2 598.4,1228.7 601.6,1227.9 604.8,1226.5 608.1,1225.0 611.3,1223.4 614.5,1221.7 617.7,1220.2 620.9,1218.8 624.1,1217.7 627.4,1216.9 630.6,1216.7 633.8,1216.6 637.0,1217.1 640.2,1217.9 643.5,1218.9 646.7,1220.1 649.9,1221.4 653.1,1222.8 656.3,1224.0 659.5,1225.3 662.8,1226.4 666.0,1227.5 669.2,1228.6 672.4,1229.5 675.6,1230.4 678.8,1231.2 682.1,1231.8 685.3,1232.4 688.5,1232.8 691.7,1233.2 694.9,1233.6 698.2,1234.0 701.4,1234.3 704.6,1234.7 707.8,1235.0 711.0,1235.2 714.2,1235.5 717.5,1235.7 720.7,1236.0 723.9,1236.2 727.1,1236.5 730.3,1236.9 733.5,1237.2 736.8,1237.2 740.0,1237.0 743.2,1236.8 746.4,1236.7 749.6,1236.6 752.9,1236.9 756.1,1237.7 759.3,1238.4 762.5,1239.1 765.7,1239.7 768.9,1240.4 772.2,1241.0 775.4,1241.7 778.6,1242.3 781.8,1242.9 785.0,1243.4 788.2,1244.0 791.5,1244.5 794.7,1245.1 797.9,1245.6 801.1,1246.1 804.3,1246.5 807.6,1246.9 810.8,1247.2 814.0,1247.4 817.2,1247.5 820.4,1247.4 823.6,1246.9 826.9,1245.8 830.1,1244.5 833.3,1243.5 836.5,1242.7 839.7,1242.0 842.9,1241.5 846.2,1241.1 849.4,1240.7 852.6,1240.2 855.8,1239.5 859.0,1238.1 862.2,1236.9 865.5,1236.0 868.7,1235.5 871.9,1235.0 875.1,1234.8 878.3,1234.7 881.6,1234.6 884.8,1234.6 888.0,1234.6 891.2,1234.7 894.4,1234.7 897.6,1234.7 900.9,1234.8 904.1,1234.8 907.3,1234.9 910.5,1234.9 913.7,1235.0 916.9,1235.0 920.2,1235.1 923.4,1235.2 926.6,1235.2 929.8,1235.3 933.0,1235.4 936.3,1235.4 939.5,1235.5 942.7,1235.6 945.9,1235.7 949.1,1235.7 952.3,1235.8 955.6,1235.9 958.8,1236.0 962.0,1236.1 965.2,1236.1 968.4,1236.2 971.6,1236.2 974.9,1236.3 978.1,1236.3 981.3,1236.4" fill="none" stroke="#1f77b4" stroke-width="0.7" stroke-linejoin="round" marker-start="url(#mb)" marker-mid="url(#mb)" marker-end="url(#mb)"/>
<g shape-rendering="crispEdges" fill="#000"><rect x="309" y="1180" width="705" height="1"/><rect x="309" y="1288" width="705" height="1"/><rect x="309" y="1180" width="1" height="109"/><rect x="1013" y="1180" width="1" height="109"/><rect x="341" y="1289" width="1" height="8"/><rect x="405" y="1289" width="1" height="8"/><rect x="469" y="1289" width="1" height="8"/><rect x="533" y="1289" width="1" height="8"/><rect x="597" y="1289" width="1" height="8"/><rect x="661" y="1289" width="1" height="8"/><rect x="725" y="1289" width="1" height="8"/><rect x="789" y="1289" width="1" height="8"/><rect x="853" y="1289" width="1" height="8"/><rect x="917" y="1289" width="1" height="8"/><rect x="981" y="1289" width="1" height="8"/><rect x="300" y="1196" width="9" height="1"/><rect x="300" y="1237" width="9" height="1"/><rect x="300" y="1278" width="9" height="1"/></g>
<rect x="0" y="1584" width="1225" height="1" fill="#222"/>
</svg>
</body></html>
